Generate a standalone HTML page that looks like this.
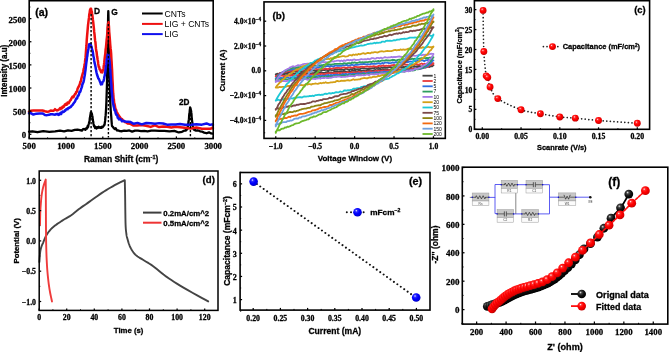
<!DOCTYPE html>
<html><head><meta charset="utf-8"><style>
html,body{margin:0;padding:0;background:#fff;}
svg{display:block;filter:blur(0.3px);}
</style></head><body>
<svg width="669" height="352" viewBox="0 0 669 352">
<rect width="669" height="352" fill="#fff"/>
<defs>
<radialGradient id="gr" cx="0.4" cy="0.36" r="0.62" fx="0.36" fy="0.32"><stop offset="0" stop-color="#fff0f0"/><stop offset="0.22" stop-color="#ff3030"/><stop offset="0.55" stop-color="#ff0000"/><stop offset="0.9" stop-color="#e00000"/><stop offset="1" stop-color="#c00000"/></radialGradient>
<radialGradient id="gb" cx="0.4" cy="0.36" r="0.62" fx="0.36" fy="0.32"><stop offset="0" stop-color="#f0f0ff"/><stop offset="0.22" stop-color="#3030ff"/><stop offset="0.55" stop-color="#0000ff"/><stop offset="0.9" stop-color="#0000e0"/><stop offset="1" stop-color="#0000c0"/></radialGradient>
<radialGradient id="gk" cx="0.4" cy="0.36" r="0.62" fx="0.36" fy="0.32"><stop offset="0" stop-color="#e0e0e0"/><stop offset="0.25" stop-color="#444"/><stop offset="0.6" stop-color="#111"/><stop offset="1" stop-color="#000"/></radialGradient>
</defs>
<path d="M29 131.65L32.5 131.27L37.44 132.23L43.25 131.03L49.33 131.89L55.11 131.45L60 130.72L64.13 131.46L68 130.33L71.56 130.9L74.78 129.94L77.6 129.74L80 130.15L81.85 130.71L83.16 129.07L84.08 129.02L84.76 129.54L85.35 129.83L86 128.65L86.67 127.81L87.22 128.45L87.69 126.01L88.09 126.97L88.45 125.03L88.8 123.79L89.12 122.52L89.39 121.42L89.61 120.84L89.81 117.98L90.01 117.33L90.2 116.28L90.39 114.82L90.56 114.37L90.72 112.74L90.87 112.24L91.2 112.11L91.55 113.48L91.72 113.47L91.91 113.9L92.1 115.24L92.3 115.91L92.51 116.78L92.71 119.23L92.92 120.65L93.16 121.35L93.41 123.47L93.7 124.55L94.01 126.15L94.34 126.59L94.69 126.29L95.07 128.14L95.51 126.77L96 127.64L96.57 128.45L97.23 127.22L97.92 127.76L98.64 126.67L99.34 127.72L100 127.73L100.63 127.26L101.26 127.85L101.88 126.69L102.47 127.32L103.02 126.79L103.5 126.16L103.92 125.2L104.27 125.26L104.58 124.56L104.86 122.35L105.13 120.9L105.4 117.12L105.67 115.15L105.92 111.26L106.16 107.61L106.38 102.35L106.6 95.74L106.8 89.77L107 83.02L107.18 73.2L107.36 64.93L107.52 55.2L107.67 46.55L107.8 39.12L107.91 33.94L108 26.19L108.08 20.56L108.15 16.07L108.22 13.82L108.3 11.06L108.38 12.98L108.45 16.39L108.52 21.84L108.6 27.57L108.69 34.13L108.8 39.56L108.93 47.15L109.08 55.58L109.24 65.77L109.41 75.07L109.6 81.99L109.8 89.35L110.02 95.62L110.26 101.13L110.51 106.53L110.77 111.07L111.03 114.21L111.3 117.01L111.51 120.5L111.66 122.36L111.81 124.18L112.03 126.03L112.41 126.43L113 127.03L113.77 128.14L114.64 128.95L115.67 128.25L116.88 130.37L118.31 130.5L120 131.05L121.98 131.23L124.22 130.68L126.69 130.9L129.33 130.47L132.12 131.66L135 130.62L137.96 130.72L141.04 131.04L144.25 130.95L147.63 131.29L151.2 130.71L155 130.6L159.36 130.93L164.31 130.89L169.47 131.46L174.41 130.81L178.72 132.47L182 131.83L184.08 130.71L185.27 130.69L185.83 130.59L186.17 129.8L186.5 128.75L186.96 129.54L187.32 129.11L187.61 127.24L187.84 126.33L188.07 124.45L188.3 123.2L188.54 122.11L188.76 120.07L188.96 119.16L189.14 115.79L189.32 113.63L189.5 113.9L189.67 111.68L189.82 109.61L189.97 109.25L190.11 107.29L190.25 107.68L190.69 109.19L190.83 109.89L190.98 110.71L191.13 111.15L191.3 112.73L191.48 113.92L191.66 117.01L191.84 118.57L192.04 121.1L192.26 122.08L192.5 123.45L192.72 125.9L192.91 127.33L193.12 128L193.39 128.72L193.77 129.47L194.3 129.98L194.95 129.54L195.66 130.59L196.48 130.65L197.45 130.32L198.61 130.6L200 131.36L201.83 131.55L204.13 132.59L206.61 133.26L209.01 132.34L211.06 133.4L212.5 133.58" fill="none" stroke="#000" stroke-width="2.3" stroke-linejoin="round" stroke-linecap="round" />
<path d="M29 111.91L30.81 110.74L33.37 110.48L36.38 110.52L39.52 110.47L42.5 110.47L45 111.25L47.07 111.69L48.96 111.43L50.69 110.53L52.26 110.69L53.69 110.79L55 109.17L56.15 110.14L57.11 110.47L57.94 110.04L58.67 109.78L59.34 109.02L60 108.16L60.61 109.07L61.13 107.82L61.59 108.39L62.04 108.34L62.49 106.79L63 106.4L63.55 107.09L64.13 106.23L64.72 104.7L65.31 104.17L65.91 103.77L66.5 104.81L67.07 104.17L67.61 102.44L68.16 103.37L68.72 103.19L69.33 101.96L70 100.6L70.77 100.05L71.63 98.1L72.53 96.63L73.43 97.29L74.27 95.42L75 94.05L75.62 93.86L76.17 91.91L76.67 91.87L77.13 90.88L77.56 88.75L78 87.9L78.41 87.13L78.78 86.28L79.12 86.23L79.48 84.72L79.86 83.95L80.3 81.96L80.82 81.67L81.41 78.33L82.03 76.1L82.64 73.83L83.21 72.03L83.7 68.84L84.09 68.02L84.41 65.69L84.69 64.33L84.95 62.72L85.21 59.71L85.5 57.88L85.81 53.8L86.13 49.12L86.44 45.97L86.76 39.9L87.08 35.93L87.4 32.45L87.72 28.64L88.05 24.93L88.38 22.32L88.7 19.67L89.01 17.69L89.3 14.21L89.57 13.28L89.83 11.07L90.08 9.84L90.31 9.86L90.55 8.72L91.05 8.84L91.29 9.87L91.53 11.17L91.77 11.53L92.03 13.44L92.3 15.01L92.59 17.13L92.91 19.98L93.23 22.25L93.56 25.31L93.88 28.12L94.2 31.88L94.51 34.23L94.81 37.53L95.12 40.63L95.42 42.19L95.71 45.56L96 48.89L96.27 51.01L96.54 51.77L96.79 53.77L97.05 56.33L97.32 57.41L97.6 59.48L97.89 60.83L98.19 63.63L98.49 65.37L98.81 66.99L99.15 66.75L99.5 68.93L99.89 69.73L100.33 69.47L100.78 71.57L101.22 72.2L101.63 70.97L102.31 72.39L102.81 70.54L103.04 70.04L103.26 70.14L103.5 68.66L103.75 65.88L103.99 64.71L104.23 62.93L104.47 60.43L104.73 57.84L105 55.64L105.3 53.77L105.62 49.4L105.96 47.35L106.29 43.94L106.61 39.98L106.9 37.66L107.16 35.12L107.4 31.42L107.63 27.12L107.85 26.01L108.07 23.56L108.3 23.14L108.53 22.17L108.76 24.5L108.98 26.94L109.21 31.81L109.45 34.3L109.7 37.26L109.97 40.89L110.26 45.03L110.56 48.13L110.86 50.4L111.14 53.69L111.4 58.84L111.63 62L111.84 66.4L112.04 69.43L112.23 73.56L112.42 78.79L112.6 81.85L112.77 84.34L112.91 89.01L113.06 91.11L113.21 93.97L113.38 94.91L113.6 98.71L113.86 99.25L114.14 102.78L114.46 103.75L114.79 105.18L115.14 107.15L115.5 109.35L115.86 109.37L116.23 110.3L116.62 112.18L117.03 112.61L117.49 113.3L118 114.32L118.53 114.96L119.07 116.03L119.66 116.96L120.31 117.64L121.08 119.26L122 119.08L122.91 120.36L123.74 120.64L124.69 121.93L125.93 122.17L127.64 123.45L130 123.63L133.18 125.54L137.07 125.52L141.44 125.04L146.04 125.79L150.64 126.88L155 125.41L159.11 127.04L163.15 126.43L167.19 126.72L171.3 127.54L175.54 126.81L180 127.21L185.03 127.78L190.65 128.59L196.41 127.54L201.85 128.74L206.53 128.67L210 128.67L212.04 128.29L212.96 128.21L212.5 127.61" fill="none" stroke="#ee1010" stroke-width="2.5" stroke-linejoin="round" stroke-linecap="round" />
<path d="M29 113.26L30.81 113.17L33.37 114.55L36.38 113.63L39.52 113.5L42.5 113.4L45 114.98L47.07 115.13L48.96 114.86L50.69 114.21L52.26 114.24L53.69 114.4L55 114.72L56.15 114L57.11 114.39L57.94 113.78L58.67 114.92L59.34 114.68L60 113.59L60.61 112.8L61.13 114.06L61.59 112.58L62.04 112.49L62.49 111.56L63 112.06L63.55 111.93L64.13 111.62L64.72 110.62L65.31 110.82L65.91 109.41L66.5 109.53L67.07 108.85L67.61 109.2L68.16 108.21L68.72 107.84L69.33 107.95L70 107.17L70.76 107L71.59 105.83L72.47 105.09L73.35 103.66L74.21 102.52L75 101.66L75.74 99.55L76.44 98.3L77.12 98.49L77.78 95.68L78.4 95.66L79 94.29L79.57 91.81L80.11 92.05L80.62 90.79L81.11 88.89L81.57 87.76L82 86.62L82.39 84.15L82.73 83.94L83.04 82.95L83.35 82.56L83.66 81.23L84 79.65L84.38 77.1L84.77 75.27L85.18 72.18L85.58 69.46L85.96 65.88L86.3 63.06L86.59 61.05L86.84 59.37L87.06 56.8L87.29 56.3L87.52 53.88L87.8 52.26L88.12 50.47L88.46 48.75L88.81 46.63L89.18 44.17L89.54 44.66L89.9 44L90.6 44.1L90.94 45.1L91.29 46.56L91.64 46.74L92 49.47L92.35 49.98L92.7 51.3L93.06 53.5L93.42 56.37L93.8 57.34L94.2 60.48L94.62 63.16L95.05 64.58L95.49 66.83L95.96 69.48L96.46 72.24L97 74.53L97.61 76.26L98.29 78.33L98.99 79.1L99.69 80.92L100.34 82.49L100.9 84.39L101.36 83.95L102.07 84.2L102.37 82.55L102.68 81.93L103 81.54L103.34 81.41L103.69 80.32L104.04 78.98L104.37 76.77L104.7 75.67L105 73.93L105.28 72.11L105.54 69.37L105.78 68.76L106.02 65.21L106.26 64.74L106.5 62.87L106.75 59.35L107 58.53L107.24 57.67L107.49 56.66L107.74 54.73L108.26 54.3L108.53 54.92L108.81 57.55L109.08 57.59L109.34 60.13L109.6 61.28L109.85 64.44L110.09 68.13L110.32 69.61L110.55 74.25L110.77 76.9L111 80.77L111.22 83.5L111.43 85.76L111.63 90.3L111.84 92.56L112.06 94.51L112.3 97.01L112.54 100.12L112.76 101.86L112.99 103.17L113.26 104.32L113.59 106.17L114 107.63L114.51 110.3L115.1 110.29L115.74 113.42L116.43 115.14L117.12 115.08L117.8 117.85L118.43 118.31L119.01 119.35L119.6 118.63L120.26 119.21L121.04 119.64L122 121.3L123 120.97L123.96 121.01L125.04 121.61L126.4 121.74L128.2 121.68L130.6 122.1L133.75 123.81L137.54 122.9L141.77 124.33L146.24 123.05L150.72 123.16L155 123.72L159.07 123.13L163.1 123.51L167.15 124.67L171.27 124.52L175.54 124.39L180 124.06L185.03 124.7L190.65 124.86L196.41 124.2L201.85 124.66L206.53 123.42L210 124.86L212.04 124.35L212.96 124.98L212.5 124.79" fill="none" stroke="#1010ee" stroke-width="2.5" stroke-linejoin="round" stroke-linecap="round" />
<line x1="91.1" y1="14" x2="91.1" y2="137.5" stroke="#000" stroke-width="1.4" stroke-dasharray="2.2 1.8"/>
<line x1="108.4" y1="24" x2="108.4" y2="137.5" stroke="#000" stroke-width="1.4" stroke-dasharray="2.2 1.8"/>
<line x1="190.4" y1="110" x2="190.4" y2="137.5" stroke="#000" stroke-width="1.4" stroke-dasharray="2.2 1.8"/>
<rect x="29.2" y="0.7" width="184" height="137.9" fill="none" stroke="#000" stroke-width="1.6"/>
<line x1="29.2" y1="138.6" x2="29.2" y2="136.4" stroke="#000" stroke-width="1.25" />
<line x1="66" y1="138.6" x2="66" y2="136.4" stroke="#000" stroke-width="1.25" />
<line x1="102.8" y1="138.6" x2="102.8" y2="136.4" stroke="#000" stroke-width="1.25" />
<line x1="139.6" y1="138.6" x2="139.6" y2="136.4" stroke="#000" stroke-width="1.25" />
<line x1="176.4" y1="138.6" x2="176.4" y2="136.4" stroke="#000" stroke-width="1.25" />
<line x1="213.2" y1="138.6" x2="213.2" y2="136.4" stroke="#000" stroke-width="1.25" />
<line x1="47.6" y1="138.6" x2="47.6" y2="137.4" stroke="#000" stroke-width="1.0" />
<line x1="84.4" y1="138.6" x2="84.4" y2="137.4" stroke="#000" stroke-width="1.0" />
<line x1="121.2" y1="138.6" x2="121.2" y2="137.4" stroke="#000" stroke-width="1.0" />
<line x1="158" y1="138.6" x2="158" y2="137.4" stroke="#000" stroke-width="1.0" />
<line x1="194.8" y1="138.6" x2="194.8" y2="137.4" stroke="#000" stroke-width="1.0" />
<line x1="29.2" y1="134.3" x2="31.4" y2="134.3" stroke="#000" stroke-width="1.25" />
<line x1="29.2" y1="111.16" x2="31.4" y2="111.16" stroke="#000" stroke-width="1.25" />
<line x1="29.2" y1="88.02" x2="31.4" y2="88.02" stroke="#000" stroke-width="1.25" />
<line x1="29.2" y1="64.88" x2="31.4" y2="64.88" stroke="#000" stroke-width="1.25" />
<line x1="29.2" y1="41.74" x2="31.4" y2="41.74" stroke="#000" stroke-width="1.25" />
<line x1="29.2" y1="18.6" x2="31.4" y2="18.6" stroke="#000" stroke-width="1.25" />
<line x1="29.2" y1="122.73" x2="30.4" y2="122.73" stroke="#000" stroke-width="1.0" />
<line x1="29.2" y1="99.59" x2="30.4" y2="99.59" stroke="#000" stroke-width="1.0" />
<line x1="29.2" y1="76.45" x2="30.4" y2="76.45" stroke="#000" stroke-width="1.0" />
<line x1="29.2" y1="53.31" x2="30.4" y2="53.31" stroke="#000" stroke-width="1.0" />
<line x1="29.2" y1="30.17" x2="30.4" y2="30.17" stroke="#000" stroke-width="1.0" />
<line x1="29.2" y1="7.03" x2="30.4" y2="7.03" stroke="#000" stroke-width="1.0" />
<text x="26.2" y="138.3" font-family='"Liberation Serif", serif' font-size="8.8" font-weight="bold" text-anchor="end" fill="#000" stroke="#000" stroke-width="0.28" >0</text>
<text x="26.2" y="115.16" font-family='"Liberation Serif", serif' font-size="8.8" font-weight="bold" text-anchor="end" fill="#000" stroke="#000" stroke-width="0.28" >500</text>
<text x="26.2" y="92.02" font-family='"Liberation Serif", serif' font-size="8.8" font-weight="bold" text-anchor="end" fill="#000" stroke="#000" stroke-width="0.28" >1000</text>
<text x="26.2" y="68.88" font-family='"Liberation Serif", serif' font-size="8.8" font-weight="bold" text-anchor="end" fill="#000" stroke="#000" stroke-width="0.28" >1500</text>
<text x="26.2" y="45.74" font-family='"Liberation Serif", serif' font-size="8.8" font-weight="bold" text-anchor="end" fill="#000" stroke="#000" stroke-width="0.28" >2000</text>
<text x="26.2" y="22.6" font-family='"Liberation Serif", serif' font-size="8.8" font-weight="bold" text-anchor="end" fill="#000" stroke="#000" stroke-width="0.28" >2500</text>
<text x="29.2" y="148.8" font-family='"Liberation Serif", serif' font-size="8.8" font-weight="bold" text-anchor="middle" fill="#000" stroke="#000" stroke-width="0.28" >500</text>
<text x="66" y="148.8" font-family='"Liberation Serif", serif' font-size="8.8" font-weight="bold" text-anchor="middle" fill="#000" stroke="#000" stroke-width="0.28" >1000</text>
<text x="102.8" y="148.8" font-family='"Liberation Serif", serif' font-size="8.8" font-weight="bold" text-anchor="middle" fill="#000" stroke="#000" stroke-width="0.28" >1500</text>
<text x="139.6" y="148.8" font-family='"Liberation Serif", serif' font-size="8.8" font-weight="bold" text-anchor="middle" fill="#000" stroke="#000" stroke-width="0.28" >2000</text>
<text x="176.4" y="148.8" font-family='"Liberation Serif", serif' font-size="8.8" font-weight="bold" text-anchor="middle" fill="#000" stroke="#000" stroke-width="0.28" >2500</text>
<text x="213.2" y="148.8" font-family='"Liberation Serif", serif' font-size="8.8" font-weight="bold" text-anchor="middle" fill="#000" stroke="#000" stroke-width="0.28" >3000</text>
<text x="83.9" y="161.9" font-family='"Liberation Sans", sans-serif' font-size="8.5" font-weight="bold" text-anchor="start" fill="#000" stroke="#000" stroke-width="0.28" textLength="74.4" lengthAdjust="spacingAndGlyphs" >Raman Shift (cm<tspan font-size="5.5" dy="-3">-1</tspan><tspan dy="3">)</tspan></text>
<text x="6.9" y="70.8" font-family='"Liberation Sans", sans-serif' font-size="8.3" font-weight="bold" text-anchor="middle" fill="#000" stroke="#000" stroke-width="0.28" textLength="52" lengthAdjust="spacingAndGlyphs" transform="rotate(-90 6.9 70.8)" >Intensity (a.u)</text>
<text x="35.2" y="15.9" font-family='"Liberation Sans", sans-serif' font-size="10.5" font-weight="bold" text-anchor="start" fill="#000" stroke="#000" stroke-width="0.28" >(a)</text>
<text x="94" y="14" font-family='"Liberation Sans", sans-serif' font-size="8.4" font-weight="bold" text-anchor="start" fill="#000" stroke="#000" stroke-width="0.28" >D</text>
<text x="111.3" y="15" font-family='"Liberation Sans", sans-serif' font-size="8.4" font-weight="bold" text-anchor="start" fill="#000" stroke="#000" stroke-width="0.28" >G</text>
<text x="179" y="105" font-family='"Liberation Sans", sans-serif' font-size="8.2" font-weight="bold" text-anchor="start" fill="#000" stroke="#000" stroke-width="0.28" >2D</text>
<line x1="142" y1="13.5" x2="162.7" y2="13.5" stroke="#000" stroke-width="2" />
<text x="164.5" y="16.8" font-family='"Liberation Sans", sans-serif' font-size="8.6" font-weight="normal" text-anchor="start" fill="#000" >CNTs</text>
<line x1="142" y1="23.9" x2="162.7" y2="23.9" stroke="#ee1010" stroke-width="2" />
<text x="164.5" y="27.2" font-family='"Liberation Sans", sans-serif' font-size="8.6" font-weight="normal" text-anchor="start" fill="#000" >LIG + CNTs</text>
<line x1="142" y1="34.1" x2="162.7" y2="34.1" stroke="#1010ee" stroke-width="2" />
<text x="164.5" y="37.4" font-family='"Liberation Sans", sans-serif' font-size="8.6" font-weight="normal" text-anchor="start" fill="#000" >LIG</text>
<path d="M275.75 74.43L277.06 73.72L278.38 74.19L279.69 73.06L281.01 73.12L282.32 72.75L283.63 72.5L284.95 72.77L286.26 72.85L287.58 71.99L288.89 72.27L290.21 71.8L291.52 71.96L292.83 71.7L294.15 71.39L295.46 71.3L296.78 71.27L298.09 71.9L299.41 71.42L300.72 71.08L302.03 71.7L303.35 71.72L304.66 71.11L305.98 70.74L307.29 70.73L308.6 70.57L309.92 70.76L311.23 70.45L312.55 70.54L313.86 70.5L315.18 70.75L316.49 71.01L317.8 70.81L319.12 70.42L320.43 70.36L321.75 70.41L323.06 70.21L324.37 70.11L325.69 69.78L327 69.93L328.32 70.57L329.63 69.67L330.95 69.99L332.26 70.05L333.57 70.23L334.89 69.52L336.2 69.52L337.52 69.44L338.83 69.53L340.14 69.52L341.46 69.97L342.77 69.81L344.09 69.78L345.4 68.87L346.72 68.82L348.03 69.44L349.34 69.57L350.66 69.09L351.97 69.14L353.29 68.5L354.6 68.83L355.91 69.31L357.23 69.15L358.54 69.12L359.86 69.18L361.17 68.4L362.49 68.2L363.8 68.19L365.11 68.5L366.43 68.6L367.74 68.8L369.06 68.53L370.37 68.39L371.68 68.45L373 68.09L374.31 68.12L375.63 67.55L376.94 68.24L378.25 67.63L379.57 68.26L380.88 67.93L382.2 67.53L383.51 67.29L384.83 67.36L386.14 67.69L387.45 67.69L388.77 67.05L390.08 66.95L391.4 67.34L392.71 67.34L394.03 67.09L395.34 66.87L396.65 67.19L397.97 66.54L399.28 66.77L400.6 66.88L401.91 67.32L403.22 66.94L404.54 67.12L405.85 66.66L407.17 66.36L408.48 66.31L409.8 66.97L411.11 66.66L412.42 66.2L413.74 65.86L415.05 66.28L416.37 66.39L417.68 66.08L418.99 65.86L420.31 66.21L421.62 66.41L422.94 65.66L424.25 65.41L425.56 65.65L426.88 65.68L428.19 65.88L429.51 65.34L430.82 65.88L432.14 65.76L433.45 65.47L433.45 65.17L432.14 66.42L430.82 66.16L429.51 67L428.19 66.69L426.88 66.92L425.57 67.67L424.25 67.38L422.94 68.19L421.62 67.87L420.31 67.69L418.99 67.83L417.68 68.13L416.37 68.47L415.05 68.84L413.74 68.12L412.42 68.44L411.11 68.33L409.8 69.16L408.48 68.4L407.17 68.37L405.85 68.45L404.54 68.84L403.22 69.41L401.91 69.46L400.6 69.37L399.28 69.69L397.97 69.69L396.65 69.14L395.34 69.06L394.03 69.87L392.71 69.74L391.4 69.08L390.08 69.77L388.77 69.54L387.45 69.6L386.14 69.61L384.83 69.51L383.51 69.4L382.2 69.74L380.88 69.87L379.57 70.53L378.25 69.75L376.94 70.65L375.63 69.95L374.31 70.16L373 70.68L371.68 70.74L370.37 70.41L369.06 70.08L367.74 70.57L366.43 70.52L365.11 71.13L363.8 70.46L362.49 70.69L361.17 71.28L359.86 70.47L358.54 70.91L357.23 71.37L355.91 71.38L354.6 70.71L353.29 70.76L351.97 70.85L350.66 71.77L349.34 71.16L348.03 71.71L346.72 71.92L345.4 71.42L344.09 71.41L342.77 72.15L341.46 71.87L340.14 71.57L338.83 72.08L337.52 71.74L336.2 71.76L334.89 71.54L333.57 72.35L332.26 72.57L330.95 72.35L329.63 72.71L328.32 71.85L327 72.12L325.69 72.42L324.37 72.96L323.06 73.01L321.75 72.51L320.43 72.43L319.12 72.66L317.8 72.79L316.49 73.28L315.18 72.59L313.86 73.27L312.55 73.26L311.23 73.4L309.92 73.41L308.6 73.3L307.29 73.08L305.98 73.13L304.66 73.23L303.35 73.71L302.03 73.07L300.72 73.24L299.41 73.86L298.09 73.41L296.78 73.28L295.46 73.31L294.15 73.89L292.83 73.72L291.52 74.43L290.21 74.39L288.89 74.55L287.58 73.89L286.26 73.77L284.95 73.84L283.64 74.3L282.32 74.56L281.01 74.36L279.69 74.2L278.38 74.45L277.06 74.71L275.75 74.82L275.75 74.43" fill="none" stroke="#444444" stroke-width="1.8" stroke-linejoin="round" stroke-linecap="round" />
<path d="M275.75 76.5L277.06 75.6L278.38 74.6L279.69 73.37L281.01 73.53L282.32 72.51L283.63 72.39L284.95 71.86L286.26 71.94L287.58 71.16L288.89 71L290.21 70.82L291.52 70.56L292.83 71.15L294.15 70.72L295.46 70.35L296.78 70.31L298.09 70.81L299.41 70.23L300.72 69.87L302.03 70.36L303.35 70.12L304.66 70.38L305.98 69.42L307.29 69.72L308.6 69.99L309.92 69.94L311.23 69.94L312.55 69L313.86 69.18L315.18 68.94L316.49 68.94L317.8 69.66L319.12 69.2L320.43 69.48L321.75 68.86L323.06 69.28L324.37 68.8L325.69 68.54L327 69L328.32 69.1L329.63 68.19L330.95 68.62L332.26 68.57L333.57 68.1L334.89 68.19L336.2 67.9L337.52 67.89L338.83 67.88L340.14 68.16L341.46 68.14L342.77 67.63L344.09 67.37L345.4 67.62L346.72 67.9L348.03 67.34L349.34 67.4L350.66 67.23L351.97 67.76L353.29 67.44L354.6 66.89L355.91 66.86L357.23 67.09L358.54 67.18L359.86 67.2L361.17 66.59L362.49 66.59L363.8 67.06L365.11 66.71L366.43 66.52L367.74 66.47L369.06 67.05L370.37 66.35L371.68 66.53L373 66.26L374.31 66.25L375.63 66.63L376.94 66.7L378.25 66L379.57 65.77L380.88 66.23L382.2 65.64L383.51 65.38L384.83 66.21L386.14 65.66L387.45 66L388.77 65.51L390.08 65.93L391.4 65.44L392.71 65.07L394.03 64.86L395.34 65.33L396.65 65.35L397.97 65.56L399.28 64.67L400.6 65.14L401.91 64.82L403.22 64.89L404.54 64.46L405.85 64.53L407.17 64.7L408.48 65.04L409.8 64.16L411.11 64.47L412.42 64.72L413.74 64.82L415.05 63.98L416.37 63.85L417.68 64.6L418.99 64.56L420.31 64L421.62 63.51L422.94 64.32L424.25 63.71L425.56 64.16L426.88 63.81L428.19 63.95L429.51 63.22L430.82 63.78L432.14 63.15L433.45 63.26L433.45 63.71L432.14 64.69L430.82 64.87L429.51 65.58L428.19 66.33L426.88 66.92L425.57 67.18L424.25 67.25L422.94 67.66L421.62 68.38L420.31 68.76L418.99 68.09L417.68 68.77L416.37 69.11L415.05 68.52L413.74 69.43L412.42 68.82L411.11 69.4L409.8 69.44L408.48 69.61L407.17 69.37L405.85 69.57L404.54 69.81L403.22 69.73L401.91 70.03L400.6 69.89L399.28 69.96L397.97 69.61L396.65 70.28L395.34 70.22L394.03 70.03L392.71 70.63L391.4 70.71L390.08 70.46L388.77 70.24L387.45 70.6L386.14 70.31L384.83 70.39L383.51 70.76L382.2 70.49L380.88 70.91L379.57 71.04L378.25 70.64L376.94 71.3L375.63 70.81L374.31 71.53L373 71.64L371.68 71.44L370.37 71.05L369.06 71.56L367.74 71.5L366.43 72.14L365.11 71.4L363.8 72.18L362.49 72.39L361.17 72.19L359.86 72.34L358.54 71.78L357.23 72.64L355.91 72.21L354.6 72.74L353.29 72.77L351.97 72.09L350.66 72.77L349.34 72.98L348.03 72.18L346.72 72.54L345.4 73.01L344.09 72.48L342.77 73.28L341.46 72.72L340.14 73.33L338.83 72.73L337.52 73.15L336.2 73.63L334.89 72.99L333.57 73.11L332.26 73.42L330.95 73.3L329.63 73.08L328.32 73.29L327 73.34L325.69 74.18L324.37 73.99L323.06 74.27L321.75 73.61L320.43 74.29L319.12 73.69L317.8 74.17L316.49 74.34L315.18 74.13L313.86 74.71L312.55 74.46L311.23 74.55L309.92 74.92L308.6 74.21L307.29 75.16L305.98 74.86L304.66 74.7L303.35 75.16L302.03 74.7L300.72 75.49L299.41 75.14L298.09 74.99L296.78 75.46L295.46 75.21L294.15 75.01L292.83 75.64L291.52 75.01L290.21 75.85L288.89 75.35L287.58 75.8L286.26 76.21L284.95 75.88L283.64 76.02L282.32 75.74L281.01 75.49L279.69 75.59L278.38 75.77L277.06 76.31L275.75 76.19L275.75 76.5" fill="none" stroke="#e8383a" stroke-width="1.8" stroke-linejoin="round" stroke-linecap="round" />
<path d="M275.75 78.5L277.06 77.3L278.38 75.2L279.69 74.17L281.01 73.66L282.32 72.23L283.63 71.53L284.95 71.31L286.26 70.57L287.58 70.4L288.89 69.9L290.21 69.94L291.52 69.67L292.83 69.05L294.15 69.25L295.46 68.91L296.78 68.4L298.09 69.04L299.41 68.21L300.72 67.98L302.03 67.81L303.35 68.23L304.66 68.36L305.98 68.16L307.29 67.68L308.6 67.45L309.92 67.1L311.23 67.64L312.55 67.47L313.86 67.17L315.18 67.38L316.49 67.1L317.8 67.51L319.12 67.22L320.43 66.65L321.75 67.23L323.06 66.29L324.37 66.7L325.69 66.49L327 66.24L328.32 65.98L329.63 66.62L330.95 65.78L332.26 66.24L333.57 66.55L334.89 65.67L336.2 65.65L337.52 65.98L338.83 65.8L340.14 65.85L341.46 65.95L342.77 65.23L344.09 65.29L345.4 65.2L346.72 64.87L348.03 65.63L349.34 65.45L350.66 65.3L351.97 64.51L353.29 65.27L354.6 65.09L355.91 64.73L357.23 64.93L358.54 64.56L359.86 64.26L361.17 64.06L362.49 64.11L363.8 63.84L365.11 64.06L366.43 64.39L367.74 64.26L369.06 64.33L370.37 64.12L371.68 63.59L373 63.8L374.31 63.61L375.63 63.88L376.94 63.54L378.25 63.2L379.57 63.5L380.88 63.74L382.2 62.92L383.51 63.5L384.83 62.56L386.14 62.72L387.45 62.62L388.77 63.05L390.08 63.17L391.4 62.9L392.71 62.4L394.03 62.87L395.34 62.24L396.65 62.07L397.97 62.66L399.28 62.31L400.6 62.29L401.91 62.19L403.22 62.42L404.54 61.83L405.85 62.12L407.17 61.9L408.48 61.99L409.8 61.49L411.11 61.7L412.42 61.46L413.74 61.12L415.05 60.95L416.37 61.28L417.68 60.66L418.99 61.41L420.31 60.57L421.62 60.37L422.94 60.37L424.25 61.11L425.56 60.45L426.88 60.17L428.19 59.98L429.51 59.91L430.82 60.49L432.14 60.35L433.45 60.33L433.45 60.37L432.14 61.29L430.82 63.15L429.51 64.04L428.19 65.44L426.88 66.24L425.57 66.99L424.25 66.74L422.94 68.03L421.62 68.5L420.31 68.89L418.99 68.37L417.68 68.74L416.37 68.89L415.05 69.03L413.74 70.03L412.42 70.17L411.11 70.15L409.8 70.48L408.48 70.42L407.17 70.2L405.85 70.13L404.54 70.24L403.22 71L401.91 70.55L400.6 70.76L399.28 70.96L397.97 70.65L396.65 70.97L395.34 71.08L394.03 71.6L392.71 71.34L391.4 71.37L390.08 72.1L388.77 71.72L387.45 72.15L386.14 72L384.83 71.49L383.51 71.95L382.2 72.06L380.88 72.47L379.57 72.13L378.25 72.56L376.94 72.48L375.63 72.23L374.31 72.96L373 72.27L371.68 73.07L370.37 72.5L369.06 72.41L367.74 72.69L366.43 73.33L365.11 73.63L363.8 72.73L362.49 73.3L361.17 73.37L359.86 73.76L358.54 73.22L357.23 73.61L355.91 73.54L354.6 74.11L353.29 73.61L351.97 74.38L350.66 73.8L349.34 73.8L348.03 74.37L346.72 74.25L345.4 73.94L344.09 74.54L342.77 74.06L341.46 74.85L340.14 74.84L338.83 75.01L337.52 74.92L336.2 74.73L334.89 74.86L333.57 74.93L332.26 75.5L330.95 74.78L329.63 75.66L328.32 74.87L327 75.13L325.69 75.27L324.37 75.98L323.06 75.66L321.75 75.62L320.43 76.2L319.12 75.63L317.8 75.94L316.49 76.09L315.18 76.39L313.86 76.46L312.55 76.44L311.23 76.22L309.92 76.27L308.6 76.18L307.29 76.95L305.98 76.84L304.66 77L303.35 76.51L302.03 76.86L300.72 77.27L299.41 77.15L298.09 76.78L296.78 77.19L295.46 77.7L294.15 77.13L292.83 77.16L291.52 77.35L290.21 77.83L288.89 78.05L287.58 77.44L286.26 77.52L284.95 77.69L283.64 77.84L282.32 78.12L281.01 77.83L279.69 78.08L278.38 78.02L277.06 78.88L275.75 78.72L275.75 78.5" fill="none" stroke="#2f6fe0" stroke-width="1.8" stroke-linejoin="round" stroke-linecap="round" />
<path d="M275.75 79.7L277.06 78.61L278.38 76.08L279.69 74.94L281.01 74.32L282.32 73.09L283.63 72.13L284.95 71.06L286.26 70.15L287.58 70.02L288.89 68.98L290.21 68.64L291.52 68.44L292.83 67.75L294.15 67.81L295.46 67.93L296.78 67.6L298.09 67.19L299.41 67.12L300.72 66.77L302.03 66.29L303.35 66.6L304.66 66.25L305.98 66.46L307.29 66.5L308.6 65.9L309.92 65.92L311.23 65.99L312.55 65.55L313.86 65.26L315.18 65.65L316.49 65.71L317.8 65.5L319.12 65.33L320.43 65.39L321.75 65.13L323.06 64.99L324.37 64.72L325.69 64.48L327 64.71L328.32 64.09L329.63 64.32L330.95 64.6L332.26 64.44L333.57 64.27L334.89 63.8L336.2 63.88L337.52 63.83L338.83 63.91L340.14 63.61L341.46 63.79L342.77 63.95L344.09 63.12L345.4 63.5L346.72 63.54L348.03 63.06L349.34 63.08L350.66 63.48L351.97 62.45L353.29 62.87L354.6 62.4L355.91 62.94L357.23 63.01L358.54 62.5L359.86 61.99L361.17 62.38L362.49 62.26L363.8 62.35L365.11 62.06L366.43 62.1L367.74 62.2L369.06 61.81L370.37 61.61L371.68 62.06L373 61.23L374.31 61.62L375.63 61.24L376.94 61.53L378.25 60.8L379.57 61.58L380.88 60.86L382.2 60.47L383.51 60.6L384.83 60.64L386.14 60.17L387.45 60.49L388.77 60.4L390.08 60.59L391.4 60.16L392.71 59.99L394.03 59.86L395.34 60.29L396.65 60.4L397.97 59.9L399.28 59.51L400.6 60L401.91 59.51L403.22 59.24L404.54 59.07L405.85 59.63L407.17 59.58L408.48 59.32L409.8 59.06L411.11 59.07L412.42 58.65L413.74 59.3L415.05 58.6L416.37 58.8L417.68 58.89L418.99 58.8L420.31 58.37L421.62 58.11L422.94 58.27L424.25 57.76L425.56 58.39L426.88 57.82L428.19 58.23L429.51 57.56L430.82 57.58L432.14 57.37L433.45 57.46L433.45 57.22L432.14 58.99L430.82 61.37L429.51 62.36L428.19 63.54L426.88 64.64L425.57 65.71L424.25 66.44L422.94 67.31L421.62 67.91L420.31 68.12L418.99 69.12L417.68 69.44L416.37 68.98L415.05 70.05L413.74 70.39L412.42 70.51L411.11 70.09L409.8 70.97L408.48 70.95L407.17 70.5L405.85 70.65L404.54 71.73L403.22 71.57L401.91 71.29L400.6 71.27L399.28 71.42L397.97 71.63L396.65 72.28L395.34 71.95L394.03 71.86L392.71 72.71L391.4 72.69L390.08 72.17L388.77 72.98L387.45 72.79L386.14 73.06L384.83 73.04L383.51 73.35L382.2 73.34L380.88 73.48L379.57 72.93L378.25 73.51L376.94 73.44L375.63 73.74L374.31 73.52L373 74.05L371.68 73.81L370.37 73.61L369.06 73.67L367.74 73.66L366.43 74.1L365.11 73.75L363.8 74.25L362.49 74.01L361.17 74.45L359.86 74.54L358.54 74.67L357.23 75.08L355.91 74.31L354.6 75.23L353.29 74.95L351.97 75.13L350.66 75.32L349.34 75.58L348.03 75.2L346.72 75.33L345.4 75.96L344.09 75.16L342.77 75.81L341.46 75.9L340.14 75.38L338.83 76.04L337.52 76.2L336.2 76.54L334.89 76.02L333.57 76.76L332.26 76.38L330.95 76.44L329.63 76.94L328.32 76.16L327 76.93L325.69 76.93L324.37 76.73L323.06 77.34L321.75 76.93L320.43 77.12L319.12 77.26L317.8 77.59L316.49 77.12L315.18 77.43L313.86 77.51L312.55 77.72L311.23 78.08L309.92 77.64L308.6 78.26L307.29 77.92L305.98 78.11L304.66 77.96L303.35 78.28L302.03 78.84L300.72 78.61L299.41 78.83L298.09 78.46L296.78 78.53L295.46 78.6L294.15 78.97L292.83 79.11L291.52 79.34L290.21 78.69L288.89 79.45L287.58 79.7L286.26 79.45L284.95 79.04L283.64 79.38L282.32 79.17L281.01 79.44L279.69 80.26L278.38 80.04L277.06 80.17L275.75 80.39L275.75 79.7" fill="none" stroke="#2e9e5e" stroke-width="1.8" stroke-linejoin="round" stroke-linecap="round" />
<path d="M275.75 82L277.06 79.37L278.38 77.36L279.69 75.63L281.01 74.18L282.32 72.77L283.63 71.71L284.95 70.24L286.26 69.83L287.58 68.86L288.89 68.5L290.21 67.25L291.52 66.81L292.83 66.2L294.15 66.53L295.46 66.31L296.78 65.72L298.09 65.14L299.41 65.33L300.72 65.05L302.03 64.6L303.35 64.09L304.66 63.95L305.98 63.89L307.29 63.62L308.6 63.58L309.92 63.64L311.23 63.79L312.55 62.78L313.86 63.16L315.18 62.51L316.49 62.47L317.8 63.04L319.12 62.69L320.43 62.92L321.75 62.34L323.06 61.8L324.37 62.07L325.69 62.17L327 62.41L328.32 62.35L329.63 61.74L330.95 61.58L332.26 61.16L333.57 61.61L334.89 61.07L336.2 60.91L337.52 60.68L338.83 60.57L340.14 61.15L341.46 60.49L342.77 61.24L344.09 60.26L345.4 60.94L346.72 60.1L348.03 59.9L349.34 60.5L350.66 59.92L351.97 60.32L353.29 59.67L354.6 59.44L355.91 60.07L357.23 59.91L358.54 59.95L359.86 59.73L361.17 58.99L362.49 59.43L363.8 59.42L365.11 59.07L366.43 59.45L367.74 58.67L369.06 59.28L370.37 58.94L371.68 58.14L373 58.04L374.31 58.58L375.63 58.65L376.94 57.82L378.25 57.95L379.57 58.27L380.88 57.61L382.2 58.21L383.51 57.74L384.83 57.21L386.14 57.42L387.45 57.53L388.77 57.3L390.08 57.44L391.4 56.81L392.71 57.37L394.03 56.84L395.34 57.02L396.65 56.91L397.97 56.6L399.28 56.47L400.6 56.77L401.91 56.84L403.22 56.58L404.54 56.26L405.85 55.89L407.17 55.56L408.48 56.38L409.8 56.01L411.11 56.04L412.42 55.45L413.74 55.62L415.05 55.9L416.37 55.65L417.68 55.33L418.99 54.94L420.31 54.96L421.62 55.32L422.94 54.71L424.25 54.92L425.56 54.74L426.88 54.94L428.19 54.76L429.51 54.13L430.82 53.76L432.14 53.92L433.45 53.98L433.45 54.15L432.14 56.7L430.82 58.79L429.51 59.69L428.19 62L426.88 63.29L425.57 64.49L424.25 65.19L422.94 65.76L421.62 67.1L420.31 67.72L418.99 68.19L417.68 68.93L416.37 68.83L415.05 68.97L413.74 69.81L412.42 70.38L411.11 70.08L409.8 70.89L408.48 71.32L407.17 70.84L405.85 71.42L404.54 71.68L403.22 71.64L401.91 71.55L400.6 71.76L399.28 72.4L397.97 72.58L396.65 72.38L395.34 72.14L394.03 72.98L392.71 73.07L391.4 72.65L390.08 73.11L388.77 73.54L387.45 73.64L386.14 73.38L384.83 73.44L383.51 73.66L382.2 73.37L380.88 73.47L379.57 73.56L378.25 74.19L376.94 73.95L375.63 74.25L374.31 74.19L373 74.4L371.68 74.13L370.37 74.13L369.06 75.18L367.74 74.65L366.43 74.48L365.11 75.11L363.8 75.36L362.49 74.83L361.17 75.37L359.86 75.21L358.54 75.49L357.23 75.08L355.91 75.19L354.6 76.25L353.29 76.22L351.97 75.94L350.66 76.12L349.34 75.91L348.03 76.52L346.72 76.27L345.4 76.89L344.09 76.8L342.77 76.95L341.46 77.19L340.14 76.58L338.83 76.46L337.52 76.72L336.2 76.8L334.89 76.8L333.57 76.86L332.26 77.47L330.95 77.88L329.63 77.56L328.32 78.15L327 78.21L325.69 77.46L324.37 78.09L323.06 77.99L321.75 77.81L320.43 78.74L319.12 78.14L317.8 78.54L316.49 78.72L315.18 79.13L313.86 78.94L312.55 78.76L311.23 78.91L309.92 78.72L308.6 79.63L307.29 79.75L305.98 79.08L304.66 78.99L303.35 79.3L302.03 79.5L300.72 80.15L299.41 80.24L298.09 80.27L296.78 79.58L295.46 80.42L294.15 80.44L292.83 80.47L291.52 80.91L290.21 80.08L288.89 80.26L287.58 80.97L286.26 81.25L284.95 81.08L283.64 80.8L282.32 81.19L281.01 81.46L279.69 80.9L278.38 81.22L277.06 81.25L275.75 81.21L275.75 82" fill="none" stroke="#a57ae6" stroke-width="1.8" stroke-linejoin="round" stroke-linecap="round" />
<path d="M275.75 87.52L277.06 85.58L278.38 84.11L279.69 82.55L281.01 81.7L282.32 79.73L283.63 79.19L284.95 77.49L286.26 76.22L287.58 76.05L288.89 74.34L290.21 74.1L291.52 73.13L292.83 72.29L294.15 70.72L295.46 70.25L296.78 69.16L298.09 69.29L299.41 68.53L300.72 67.68L302.03 66.89L303.35 66.2L304.66 66.12L305.98 65.25L307.29 64.89L308.6 63.92L309.92 63.54L311.23 62.93L312.55 63.16L313.86 62.59L315.18 61.79L316.49 62.14L317.8 61.17L319.12 60.97L320.43 60.38L321.75 60.17L323.06 60.43L324.37 59.62L325.69 59.17L327 59.21L328.32 58.77L329.63 59.09L330.95 58.04L332.26 58.66L333.57 57.5L334.89 58.1L336.2 57.65L337.52 56.97L338.83 57.02L340.14 56.62L341.46 56.39L342.77 56.13L344.09 56.09L345.4 56.53L346.72 56.35L348.03 56.09L349.34 55.08L350.66 55.1L351.97 55.53L353.29 54.52L354.6 55.02L355.91 54.42L357.23 54.94L358.54 53.82L359.86 54.45L361.17 53.82L362.49 53.47L363.8 53.18L365.11 53.86L366.43 53.4L367.74 52.91L369.06 53.01L370.37 53.34L371.68 52.5L373 52.71L374.31 52.14L375.63 52.04L376.94 52.49L378.25 52.29L379.57 51.64L380.88 51.38L382.2 51.25L383.51 51.64L384.83 51.39L386.14 51.03L387.45 50.83L388.77 51.1L390.08 51.07L391.4 51.04L392.71 50.68L394.03 50.17L395.34 49.9L396.65 50.43L397.97 49.98L399.28 50.16L400.6 49.37L401.91 49.99L403.22 49.39L404.54 49.77L405.85 49.66L407.17 49.16L408.48 48.56L409.8 49.32L411.11 48.76L412.42 49.03L413.74 48.3L415.05 48.09L416.37 48.61L417.68 48.02L418.99 47.69L420.31 47.77L421.62 47.87L422.94 47.15L424.25 47.54L425.56 47.34L426.88 47.28L428.19 46.76L429.51 47.23L430.82 47.21L432.14 47.13L433.45 46.46L433.45 46.83L432.14 48.24L430.82 50.25L429.51 51.11L428.19 53.38L426.88 54.83L425.57 55.67L424.25 56.92L422.94 58.09L421.62 59.19L420.31 59.7L418.99 61.63L417.68 61.81L416.37 62.64L415.05 63.38L413.74 64.32L412.42 65.62L411.11 65.54L409.8 66.27L408.48 67.51L407.17 67.61L405.85 68.01L404.54 69.13L403.22 69.63L401.91 70.07L400.6 70.72L399.28 70.57L397.97 71.76L396.65 72.02L395.34 71.74L394.03 72.2L392.71 72.93L391.4 73.28L390.08 73.39L388.77 73.55L387.45 74.14L386.14 74.17L384.83 74.91L383.51 75.45L382.2 75.01L380.88 75.69L379.57 76.11L378.25 75.77L376.94 76.66L375.63 77L374.31 76.67L373 76.92L371.68 77.55L370.37 77.44L369.06 77.51L367.74 78.25L366.43 78.27L365.11 78.02L363.8 78.1L362.49 78.37L361.17 78.65L359.86 79.37L358.54 79.36L357.23 79.63L355.91 79.7L354.6 79.89L353.29 79.26L351.97 79.88L350.66 80.47L349.34 80.6L348.03 80.07L346.72 80.39L345.4 80.75L344.09 80.62L342.77 80.93L341.46 80.62L340.14 81.12L338.83 81.34L337.52 80.99L336.2 81.25L334.89 82.22L333.57 82.16L332.26 82.46L330.95 82.29L329.63 82.6L328.32 82.81L327 82.94L325.69 82.23L324.37 82.97L323.06 82.72L321.75 83.27L320.43 82.99L319.12 83.39L317.8 83.9L316.49 83.73L315.18 83.49L313.86 83.89L312.55 83.93L311.23 84.58L309.92 84.04L308.6 84.19L307.29 84.66L305.98 84.26L304.66 84.86L303.35 85.35L302.03 85.03L300.72 84.91L299.41 85.24L298.09 85.43L296.78 85.17L295.46 85.27L294.15 85.41L292.83 85.69L291.52 85.93L290.21 85.94L288.89 86.02L287.58 85.99L286.26 86.57L284.95 86.99L283.64 86.89L282.32 86.97L281.01 87.18L279.69 86.85L278.38 87.49L277.06 87.36L275.75 87.58L275.75 87.52" fill="none" stroke="#d4a017" stroke-width="1.8" stroke-linejoin="round" stroke-linecap="round" />
<path d="M275.75 100.67L277.06 98.31L278.38 96.02L279.69 93.91L281.01 91.92L282.32 90.33L283.63 88.39L284.95 86.85L286.26 84.6L287.58 83.34L288.89 82.3L290.21 80.2L291.52 79.09L292.83 77.65L294.15 76.13L295.46 75.57L296.78 73.65L298.09 72.96L299.41 71.21L300.72 70.04L302.03 69.79L303.35 68.35L304.66 67.01L305.98 66.4L307.29 65.55L308.6 64.97L309.92 63.51L311.23 62.82L312.55 62.77L313.86 61.8L315.18 60.49L316.49 59.97L317.8 59.31L319.12 58.98L320.43 58.28L321.75 57.91L323.06 57.28L324.37 56.41L325.69 56.08L327 55.54L328.32 55.04L329.63 54.25L330.95 54.07L332.26 53.52L333.57 53.27L334.89 52.04L336.2 52.35L337.52 51.06L338.83 51.41L340.14 50.84L341.46 50.36L342.77 50.45L344.09 49.69L345.4 49.18L346.72 49.2L348.03 48.95L349.34 48.35L350.66 47.8L351.97 47.56L353.29 47.26L354.6 47.22L355.91 46.5L357.23 46.31L358.54 46.19L359.86 45.75L361.17 45.41L362.49 45.61L363.8 45.42L365.11 44.81L366.43 44.51L367.74 44L369.06 43.88L370.37 43.49L371.68 43.68L373 43.46L374.31 42.74L375.63 43.35L376.94 42.54L378.25 42.84L379.57 42.62L380.88 42.53L382.2 41.57L383.51 41.59L384.83 41.87L386.14 40.77L387.45 40.61L388.77 40.94L390.08 40.68L391.4 40.91L392.71 40.57L394.03 40.15L395.34 40.43L396.65 39.76L397.97 39.58L399.28 39.57L400.6 39.1L401.91 38.89L403.22 38.95L404.54 38.53L405.85 38.96L407.17 38.51L408.48 38.19L409.8 37.59L411.11 37.7L412.42 37.56L413.74 37.55L415.05 37.4L416.37 37.54L417.68 37.46L418.99 36.82L420.31 36.62L421.62 36.64L422.94 36.85L424.25 36.04L425.56 36.06L426.88 36.19L428.19 35.39L429.51 35.38L430.82 35.88L432.14 35.57L433.45 35.1L433.45 34.45L432.14 37.57L430.82 39.6L429.51 41.87L428.19 44.08L426.88 45.94L425.57 47.36L424.25 48.9L422.94 50.76L421.62 52.63L420.31 54.21L418.99 55.42L417.68 56.87L416.37 58.72L415.05 60.04L413.74 61.07L412.42 62.95L411.11 63.78L409.8 64.33L408.48 65.79L407.17 67.22L405.85 67.75L404.54 69.11L403.22 69.36L401.91 70.56L400.6 71.96L399.28 72.54L397.97 73.42L396.65 73.72L395.34 74.76L394.03 75.53L392.71 75.94L391.4 76.98L390.08 77.51L388.77 78.6L387.45 78.77L386.14 79.19L384.83 79.45L383.51 80.03L382.2 81.15L380.88 81L379.57 81.48L378.25 82.03L376.94 82.84L375.63 83.58L374.31 83.8L373 84.41L371.68 84.07L370.37 84.42L369.06 85.56L367.74 85.48L366.43 86.23L365.11 86.22L363.8 86.38L362.49 86.81L361.17 86.97L359.86 88.09L358.54 88.07L357.23 88.14L355.91 88.54L354.6 88.76L353.29 88.71L351.97 89.82L350.66 89.78L349.34 90.42L348.03 90.16L346.72 90.59L345.4 90.47L344.09 90.51L342.77 91.63L341.46 91.79L340.14 91.48L338.83 92.29L337.52 92.43L336.2 92.14L334.89 92.65L333.57 93.22L332.26 92.97L330.95 93.63L329.63 93.12L328.32 93.47L327 94L325.69 93.7L324.37 93.98L323.06 94.74L321.75 94.54L320.43 95.03L319.12 94.67L317.8 94.78L316.49 95.15L315.18 95.16L313.86 96.12L312.55 95.62L311.23 96.06L309.92 95.79L308.6 96.38L307.29 96.41L305.98 96.59L304.66 96.43L303.35 96.65L302.03 97.52L300.72 97.21L299.41 97.27L298.09 97.38L296.78 97.64L295.46 97.75L294.15 97.71L292.83 98.5L291.52 98.34L290.21 98.31L288.89 99.02L287.58 98.57L286.26 98.9L284.95 99.62L283.64 99.07L282.32 99.54L281.01 100.09L279.69 100.22L278.38 99.72L277.06 100.07L275.75 100.6L275.75 100.67" fill="none" stroke="#1ec8d6" stroke-width="1.8" stroke-linejoin="round" stroke-linecap="round" />
<path d="M275.75 109.74L277.06 107.81L278.38 104.63L279.69 103.04L281.01 100.34L282.32 97.89L283.63 96.02L284.95 93.68L286.26 92.31L287.58 89.98L288.89 88.8L290.21 86.74L291.52 84.82L292.83 83.07L294.15 81.85L295.46 79.93L296.78 79.12L298.09 76.94L299.41 75.96L300.72 74.66L302.03 73.1L303.35 72.36L304.66 70.77L305.98 69.88L307.29 68.66L308.6 67.31L309.92 66.34L311.23 65.01L312.55 64.11L313.86 63.83L315.18 62.37L316.49 61.81L317.8 60.38L319.12 59.99L320.43 58.97L321.75 58.31L323.06 57.33L324.37 56.35L325.69 55.87L327 55.07L328.32 54.28L329.63 54.2L330.95 53.12L332.26 52.61L333.57 52.49L334.89 51.76L336.2 51.28L337.52 50.69L338.83 49.41L340.14 49.01L341.46 48.24L342.77 48.37L344.09 47.85L345.4 47.05L346.72 46.63L348.03 46.41L349.34 45.99L350.66 45.1L351.97 45.26L353.29 44.33L354.6 44.19L355.91 43.33L357.23 42.87L358.54 43.27L359.86 42.7L361.17 42.3L362.49 41.26L363.8 40.89L365.11 40.66L366.43 40.34L367.74 40.1L369.06 39.84L370.37 39.16L371.68 39.1L373 39.11L374.31 38.33L375.63 38.67L376.94 38.1L378.25 37.94L379.57 37.17L380.88 37.06L382.2 37.01L383.51 36.39L384.83 35.75L386.14 36.31L387.45 35.97L388.77 35.2L390.08 34.69L391.4 35.23L392.71 34.71L394.03 33.89L395.34 33.83L396.65 33.43L397.97 33.86L399.28 33.02L400.6 33.48L401.91 33.06L403.22 32.15L404.54 32.51L405.85 31.97L407.17 32.08L408.48 31.92L409.8 31.13L411.11 30.71L412.42 31.33L413.74 30.57L415.05 30.85L416.37 30.38L417.68 30.19L418.99 30.06L420.31 29.63L421.62 29.23L422.94 28.6L424.25 29.02L425.56 28.53L426.88 28.39L428.19 28.59L429.51 27.57L430.82 27.99L432.14 27.05L433.45 27.49L433.45 27.09L432.14 28.77L430.82 31.21L429.51 33.73L428.19 35.42L426.88 37.29L425.57 38.9L424.25 40.56L422.94 42.64L421.62 44.43L420.31 45.91L418.99 47.65L417.68 49.05L416.37 51.16L415.05 52.61L413.74 53.63L412.42 55.03L411.11 56.67L409.8 57.92L408.48 59.69L407.17 60.36L405.85 61.52L404.54 63.28L403.22 63.68L401.91 65.21L400.6 66.06L399.28 67.59L397.97 68.34L396.65 69.54L395.34 69.92L394.03 71.35L392.71 72.2L391.4 72.95L390.08 74.12L388.77 75.03L387.45 75.13L386.14 76.1L384.83 76.95L383.51 77.56L382.2 78.15L380.88 79.09L379.57 79.71L378.25 80.9L376.94 81.32L375.63 81.63L374.31 82.48L373 83.25L371.68 83.75L370.37 84.15L369.06 84.63L367.74 85.14L366.43 86.68L365.11 86.98L363.8 86.84L362.49 87.99L361.17 88.76L359.86 88.84L358.54 88.88L357.23 89.73L355.91 90.14L354.6 90.36L353.29 91.16L351.97 91.07L350.66 92.41L349.34 92.56L348.03 92.96L346.72 93.68L345.4 93.79L344.09 93.79L342.77 94.17L341.46 94.44L340.14 94.71L338.83 95.82L337.52 96.25L336.2 96.07L334.89 96.31L333.57 97.11L332.26 97.66L330.95 98.07L329.63 97.65L328.32 98.59L327 98.96L325.69 99.19L324.37 99.09L323.06 99.26L321.75 100.2L320.43 100L319.12 100.35L317.8 100.83L316.49 100.94L315.18 101.69L313.86 101.38L312.55 101.46L311.23 102.27L309.92 102.61L308.6 103.07L307.29 103.23L305.98 103.7L304.66 104L303.35 103.82L302.03 104.08L300.72 104L299.41 104.4L298.09 104.94L296.78 104.69L295.46 105.55L294.15 105.27L292.83 105.8L291.52 106.57L290.21 105.94L288.89 106.13L287.58 106.77L286.26 106.76L284.95 107.53L283.64 107.05L282.32 108.12L281.01 108.37L279.69 108.53L278.38 108.4L277.06 108.49L275.75 109.1L275.75 109.74" fill="none" stroke="#7a4848" stroke-width="1.8" stroke-linejoin="round" stroke-linecap="round" />
<path d="M275.75 116.69L277.06 113.76L278.38 110.93L279.69 108.39L281.01 106.07L282.32 103.77L283.63 101.47L284.95 98.44L286.26 96.36L287.58 94.37L288.89 92.43L290.21 90.23L291.52 88.16L292.83 86.19L294.15 84.63L295.46 83.04L296.78 81.88L298.09 80.2L299.41 78.59L300.72 77.18L302.03 75.71L303.35 73.95L304.66 72.77L305.98 70.69L307.29 70.03L308.6 68.72L309.92 67.2L311.23 66.31L312.55 65.56L313.86 63.99L315.18 63.1L316.49 61.72L317.8 60.77L319.12 60.34L320.43 58.54L321.75 57.79L323.06 57.39L324.37 56.3L325.69 55.1L327 54.86L328.32 53.78L329.63 53.22L330.95 52.3L332.26 51.69L333.57 51.01L334.89 50.15L336.2 49.19L337.52 48.6L338.83 48.67L340.14 47.7L341.46 46.66L342.77 46.81L344.09 45.62L345.4 44.89L346.72 44.77L348.03 43.95L349.34 43.66L350.66 43.2L351.97 42.36L353.29 42.21L354.6 41.26L355.91 41.19L357.23 40.79L358.54 39.82L359.86 39.7L361.17 38.92L362.49 38.85L363.8 38.85L365.11 38.12L366.43 37.87L367.74 37.5L369.06 36.46L370.37 36.94L371.68 36.29L373 35.29L374.31 35.64L375.63 34.83L376.94 34.24L378.25 34.67L379.57 33.92L380.88 33.78L382.2 32.8L383.51 33.09L384.83 32.04L386.14 31.88L387.45 31.69L388.77 31L390.08 31.26L391.4 30.56L392.71 30.33L394.03 30.42L395.34 29.83L396.65 29.98L397.97 29.41L399.28 29.36L400.6 28.75L401.91 28.81L403.22 28.46L404.54 27.47L405.85 27.75L407.17 27.06L408.48 27.2L409.8 26.83L411.11 26.69L412.42 25.71L413.74 25.68L415.05 25.76L416.37 25.7L417.68 25.2L418.99 24.24L420.31 24.53L421.62 23.76L422.94 23.94L424.25 23.92L425.56 22.97L426.88 23.51L428.19 23L429.51 22.31L430.82 21.99L432.14 21.98L433.45 22.11L433.45 21.28L432.14 23.25L430.82 25.51L429.51 27.9L428.19 30.81L426.88 32.35L425.57 34.82L424.25 36.59L422.94 38.96L421.62 40.57L420.31 42.2L418.99 44.74L417.68 46.17L416.37 48.03L415.05 49.81L413.74 51.56L412.42 52.19L411.11 54.05L409.8 55.34L408.48 57.13L407.17 58.91L405.85 60.2L404.54 60.76L403.22 62.2L401.91 64.1L400.6 65.18L399.28 66.09L397.97 67.33L396.65 68.14L395.34 69.93L394.03 70.55L392.71 72.08L391.4 72.83L390.08 73.29L388.77 74.51L387.45 75.34L386.14 76.94L384.83 77.54L383.51 77.87L382.2 78.85L380.88 79.88L379.57 80.8L378.25 81.71L376.94 82.3L375.63 83.02L374.31 83.42L373 84.72L371.68 85.19L370.37 85.57L369.06 86.69L367.74 87.88L366.43 87.59L365.11 88.33L363.8 89.48L362.49 89.7L361.17 90.3L359.86 91.11L358.54 91.45L357.23 92.33L355.91 92.84L354.6 93.81L353.29 94.38L351.97 93.95L350.66 94.99L349.34 95.71L348.03 96.31L346.72 96.7L345.4 97.04L344.09 97.52L342.77 97.71L341.46 98.09L340.14 99.05L338.83 99.57L337.52 100.07L336.2 100.25L334.89 100.29L333.57 101.17L332.26 101.56L330.95 101.73L329.63 102.26L328.32 102.37L327 102.96L325.69 103.2L324.37 103.24L323.06 103.89L321.75 104.25L320.43 105.28L319.12 105.13L317.8 105.38L316.49 105.61L315.18 105.95L313.86 106.41L312.55 106.54L311.23 106.75L309.92 107.95L308.6 107.87L307.29 108.19L305.98 108.64L304.66 108.7L303.35 108.89L302.03 109.1L300.72 109.66L299.41 109.98L298.09 110.7L296.78 110.84L295.46 111.53L294.15 111.24L292.83 112.12L291.52 112.08L290.21 111.88L288.89 112.27L287.58 112.97L286.26 113.66L284.95 113.32L283.64 114.03L282.32 113.97L281.01 114.7L279.69 114.18L278.38 114.88L277.06 115.57L275.75 115.23L275.75 116.69" fill="none" stroke="#8c8412" stroke-width="1.8" stroke-linejoin="round" stroke-linecap="round" />
<path d="M275.75 121.4L277.06 118.1L278.38 115.28L279.69 112.53L281.01 110.21L282.32 107.07L283.63 104.69L284.95 102.02L286.26 100.03L287.58 97.99L288.89 95.54L290.21 92.94L291.52 91.4L292.83 89.63L294.15 87.32L295.46 84.93L296.78 83.85L298.09 82.16L299.41 79.93L300.72 78.09L302.03 76.56L303.35 75.37L304.66 74.23L305.98 72.55L307.29 71.44L308.6 69.38L309.92 68.19L311.23 67.35L312.55 66.02L313.86 64.59L315.18 63.71L316.49 62.25L317.8 60.88L319.12 60.18L320.43 58.79L321.75 58.38L323.06 57.12L324.37 56.34L325.69 55.53L327 54.3L328.32 53.64L329.63 52.35L330.95 52.45L332.26 51.29L333.57 50.93L334.89 49.25L336.2 49.07L337.52 48.46L338.83 47.36L340.14 46.44L341.46 45.83L342.77 45.16L344.09 45.15L345.4 43.85L346.72 43.96L348.03 42.98L349.34 42.51L350.66 41.99L351.97 41.39L353.29 40.95L354.6 40.35L355.91 39.55L357.23 39.45L358.54 38.46L359.86 38.41L361.17 37.97L362.49 37.5L363.8 36.57L365.11 36.56L366.43 36.31L367.74 35.34L369.06 34.72L370.37 34.53L371.68 34.52L373 33.29L374.31 32.75L375.63 32.8L376.94 32.58L378.25 32.29L379.57 31.49L380.88 31.72L382.2 30.58L383.51 30.72L384.83 29.68L386.14 29.25L387.45 28.98L388.77 28.54L390.08 28.63L391.4 28.32L392.71 27.59L394.03 28L395.34 27.08L396.65 26.52L397.97 26.21L399.28 26.43L400.6 26.28L401.91 25.18L403.22 24.72L404.54 25.14L405.85 24.28L407.17 24.7L408.48 23.89L409.8 23.71L411.11 23.1L412.42 23.24L413.74 22.59L415.05 22.14L416.37 22.41L417.68 21.3L418.99 21.62L420.31 20.65L421.62 20.92L422.94 20.38L424.25 20.54L425.56 19.43L426.88 19.64L428.19 19.19L429.51 19.4L430.82 19.13L432.14 18.52L433.45 17.82L433.45 17.23L432.14 19.87L430.82 22.59L429.51 24.86L428.19 27.24L426.88 30.12L425.57 32.27L424.25 34.13L422.94 36.96L421.62 38.25L420.31 40.62L418.99 42.17L417.68 44.78L416.37 46.63L415.05 47.83L413.74 50.06L412.42 51.83L411.11 52.94L409.8 54.6L408.48 56.31L407.17 58.24L405.85 58.99L404.54 60.95L403.22 62.27L401.91 63.49L400.6 64.94L399.28 66.54L397.97 67.12L396.65 69.02L395.34 69.7L394.03 71.28L392.71 72.5L391.4 72.93L390.08 74.69L388.77 75.87L387.45 76.2L386.14 76.93L384.83 78L383.51 79.82L382.2 79.79L380.88 81.6L379.57 81.73L378.25 83.18L376.94 83.4L375.63 84.3L374.31 85.63L373 85.83L371.68 86.85L370.37 88.19L369.06 88.74L367.74 89.63L366.43 90.44L365.11 90.2L363.8 91.08L362.49 92.31L361.17 92.87L359.86 92.86L358.54 93.96L357.23 94.31L355.91 95.12L354.6 95.39L353.29 95.89L351.97 97.44L350.66 97.34L349.34 98.45L348.03 98.24L346.72 99.15L345.4 99.33L344.09 100.14L342.77 100.41L341.46 101.42L340.14 101.38L338.83 102.46L337.52 102.7L336.2 102.79L334.89 103.5L333.57 104.1L332.26 104.98L330.95 104.86L329.63 105.17L328.32 106.36L327 106.71L325.69 106.99L324.37 106.95L323.06 107.27L321.75 107.77L320.43 107.98L319.12 108.36L317.8 109.22L316.49 109.52L315.18 110.06L313.86 110.25L312.55 110.28L311.23 111.33L309.92 111.67L308.6 111.94L307.29 112.31L305.98 112.82L304.66 113.47L303.35 113.72L302.03 113.92L300.72 113.95L299.41 114.22L298.09 114.67L296.78 115.57L295.46 115.33L294.15 115.66L292.83 116.03L291.52 116.09L290.21 117.28L288.89 116.62L287.58 117.55L286.26 118.2L284.95 117.85L283.64 118.53L282.32 118.62L281.01 118.8L279.69 119.08L278.38 119.31L277.06 120.35L275.75 120.61L275.75 121.4" fill="none" stroke="#f26a10" stroke-width="1.8" stroke-linejoin="round" stroke-linecap="round" />
<path d="M275.75 126.39L277.06 122.55L278.38 120.31L279.69 117.15L281.01 114.77L282.32 112.06L283.63 109.3L284.95 107.5L286.26 104.16L287.58 102.6L288.89 100.49L290.21 97.99L291.52 95.98L292.83 94.35L294.15 91.63L295.46 90.12L296.78 88.39L298.09 86.23L299.41 84.83L300.72 82.82L302.03 81.32L303.35 79.82L304.66 78.34L305.98 76.49L307.29 75.34L308.6 73.84L309.92 72.14L311.23 71.2L312.55 69.55L313.86 68.93L315.18 67.27L316.49 66.32L317.8 64.96L319.12 63.78L320.43 62.42L321.75 61.26L323.06 61L324.37 59.58L325.69 58.58L327 57.61L328.32 56.95L329.63 55.45L330.95 54.48L332.26 54.25L333.57 53.03L334.89 52.36L336.2 51.73L337.52 50.99L338.83 50.18L340.14 48.58L341.46 48.17L342.77 47.88L344.09 47.14L345.4 45.74L346.72 45.08L348.03 44.49L349.34 43.68L350.66 43.28L351.97 43.08L353.29 42.17L354.6 41.48L355.91 40.51L357.23 40.22L358.54 40.23L359.86 39.35L361.17 38.54L362.49 38L363.8 37.77L365.11 37.19L366.43 36.05L367.74 36.05L369.06 35.22L370.37 34.86L371.68 34.07L373 33.71L374.31 33.18L375.63 32.74L376.94 31.9L378.25 31.61L379.57 31.51L380.88 30.53L382.2 30.19L383.51 30.28L384.83 29.39L386.14 29L387.45 28.47L388.77 28.63L390.08 27.46L391.4 27.58L392.71 27.38L394.03 26.3L395.34 26.11L396.65 26.07L397.97 25.48L399.28 24.83L400.6 24.1L401.91 24.1L403.22 23.63L404.54 23.58L405.85 22.77L407.17 22.5L408.48 22.35L409.8 22.13L411.11 21.29L412.42 20.94L413.74 20.76L415.05 20.73L416.37 19.63L417.68 20.04L418.99 19.41L420.31 18.7L421.62 18.63L422.94 17.93L424.25 17.31L425.56 17.63L426.88 16.9L428.19 16.68L429.51 16.3L430.82 16.35L432.14 15.85L433.45 14.76L433.45 14.47L432.14 17.06L430.82 19.7L429.51 22.64L428.19 24.71L426.88 27.19L425.57 29.95L424.25 31.79L422.94 34.06L421.62 36.24L420.31 38.65L418.99 40.53L417.68 42.58L416.37 44.17L415.05 45.69L413.74 48.15L412.42 49.8L411.11 51.74L409.8 53.42L408.48 54.41L407.17 56.11L405.85 57.51L404.54 59.77L403.22 60.52L401.91 61.94L400.6 64.01L399.28 65.18L397.97 66L396.65 67.92L395.34 69.21L394.03 70.22L392.71 70.99L391.4 72.8L390.08 73.68L388.77 74.96L387.45 76.47L386.14 77.35L384.83 78.45L383.51 78.74L382.2 79.93L380.88 81.09L379.57 81.53L378.25 83.44L376.94 83.64L375.63 84.52L374.31 85.44L373 86.24L371.68 87.68L370.37 88.2L369.06 88.96L367.74 89.66L366.43 90.06L365.11 91.07L363.8 92.38L362.49 93.05L361.17 93.82L359.86 93.92L358.54 94.56L357.23 95.09L355.91 96.24L354.6 96.73L353.29 97.47L351.97 98.13L350.66 98.85L349.34 99.24L348.03 100.28L346.72 100.28L345.4 101.58L344.09 101.8L342.77 101.86L341.46 102.68L340.14 103.45L338.83 103.88L337.52 104.57L336.2 104.86L334.89 105.33L333.57 106.37L332.26 106.38L330.95 107.3L329.63 107.89L328.32 108.18L327 108.52L325.69 109.49L324.37 109.47L323.06 110.38L321.75 110.02L320.43 110.86L319.12 111.52L317.8 111.38L316.49 112.65L315.18 112.3L313.86 113.26L312.55 113.28L311.23 114.46L309.92 114.52L308.6 115.19L307.29 115.31L305.98 115.9L304.66 116.32L303.35 116.35L302.03 116.67L300.72 117.71L299.41 117.42L298.09 118.59L296.78 118.28L295.46 118.57L294.15 118.95L292.83 120.03L291.52 120.59L290.21 120.44L288.89 121.07L287.58 121.05L286.26 122.07L284.95 122.23L283.64 122.08L282.32 122.35L281.01 123.36L279.69 123.08L278.38 124.24L277.06 124.07L275.75 124.37L275.75 126.39" fill="none" stroke="#6ea0de" stroke-width="1.8" stroke-linejoin="round" stroke-linecap="round" />
<path d="M275.75 132.88L277.06 129.86L278.38 127.41L279.69 124.39L281.01 122.61L282.32 119.54L283.63 117.65L284.95 114.61L286.26 112.97L287.58 110.92L288.89 108.16L290.21 105.68L291.52 103.96L292.83 102.21L294.15 99.84L295.46 98.25L296.78 95.93L298.09 94.48L299.41 92.97L300.72 90.94L302.03 89.5L303.35 87.29L304.66 86.39L305.98 84.11L307.29 83.38L308.6 81.95L309.92 80.43L311.23 78.58L312.55 76.94L313.86 75.63L315.18 74.69L316.49 73.13L317.8 72.28L319.12 70.19L320.43 69.35L321.75 68.53L323.06 67.09L324.37 65.87L325.69 64.29L327 63.24L328.32 62.28L329.63 61.84L330.95 60.75L332.26 59.1L333.57 58.8L334.89 56.92L336.2 56.52L337.52 55.94L338.83 54.38L340.14 54.06L341.46 52.87L342.77 51.38L344.09 50.79L345.4 50.05L346.72 49.01L348.03 48.67L349.34 47.29L350.66 47.1L351.97 45.82L353.29 44.81L354.6 44.53L355.91 43.31L357.23 43.02L358.54 42.53L359.86 41.61L361.17 40.76L362.49 39.63L363.8 39.41L365.11 38.31L366.43 38.18L367.74 36.99L369.06 36.77L370.37 35.89L371.68 35.27L373 34.92L374.31 33.79L375.63 33.17L376.94 33.32L378.25 32.1L379.57 32L380.88 31.43L382.2 30.45L383.51 29.53L384.83 28.89L386.14 29.1L387.45 27.76L388.77 27.58L390.08 27.05L391.4 26.08L392.71 25.87L394.03 25.02L395.34 24.85L396.65 24.28L397.97 23.6L399.28 22.9L400.6 22.58L401.91 21.85L403.22 21.26L404.54 20.85L405.85 20.97L407.17 20.09L408.48 19.97L409.8 18.58L411.11 19.01L412.42 18.06L413.74 17.86L415.05 17.15L416.37 16.77L417.68 15.82L418.99 15.86L420.31 14.78L421.62 14.4L422.94 13.69L424.25 13.58L425.56 13.22L426.88 12.52L428.19 12.65L429.51 11.37L430.82 11.4L432.14 10.59L433.45 10.48L433.45 9.08L432.14 11.77L430.82 13.81L429.51 16.61L428.19 19.5L426.88 22.37L425.57 23.84L424.25 26.76L422.94 29.13L421.62 31.48L420.31 33.18L418.99 35.76L417.68 37.48L416.37 39.95L415.05 41L413.74 43.84L412.42 45.17L411.11 46.99L409.8 48.44L408.48 50.33L407.17 52.51L405.85 54.1L404.54 55.19L403.22 56.95L401.91 58.29L400.6 59.84L399.28 61.33L397.97 62.88L396.65 64.92L395.34 66.31L394.03 67.45L392.71 68.45L391.4 69.75L390.08 71.28L388.77 72.64L387.45 73.69L386.14 74.75L384.83 75.47L383.51 77.02L382.2 78.35L380.88 79.38L379.57 79.75L378.25 81.42L376.94 82.07L375.63 82.89L374.31 84.68L373 85.35L371.68 86.38L370.37 86.7L369.06 88.31L367.74 89.32L366.43 90.17L365.11 90.89L363.8 91.83L362.49 92.64L361.17 93.26L359.86 93.92L358.54 95.11L357.23 95.86L355.91 96.73L354.6 96.92L353.29 98.34L351.97 98.66L350.66 99.81L349.34 99.7L348.03 101.27L346.72 101.8L345.4 101.96L344.09 103.23L342.77 103.3L341.46 103.94L340.14 104.86L338.83 105.29L337.52 106.2L336.2 107.25L334.89 107.66L333.57 108.31L332.26 108.61L330.95 109.62L329.63 110.23L328.32 110.72L327 111.57L325.69 112.05L324.37 112.21L323.06 112.47L321.75 113.61L320.43 114.36L319.12 114.42L317.8 115.24L316.49 116.03L315.18 116.54L313.86 116.29L312.55 117.32L311.23 117.38L309.92 118.01L308.6 119.24L307.29 119.37L305.98 120.08L304.66 120.45L303.35 120.84L302.03 121.23L300.72 121.88L299.41 122.87L298.09 123.15L296.78 123.32L295.46 123.62L294.15 124.29L292.83 125.22L291.52 125.45L290.21 126.15L288.89 126.78L287.58 126.58L286.26 127.62L284.95 127.46L283.64 128.72L282.32 128.55L281.01 129.11L279.69 130.27L278.38 130.14L277.06 130.47L275.75 131.6L275.75 132.88" fill="none" stroke="#6cb82a" stroke-width="1.8" stroke-linejoin="round" stroke-linecap="round" />
<rect x="264" y="1.9" width="181.3" height="136.5" fill="none" stroke="#000" stroke-width="1.6"/>
<line x1="275.75" y1="138.4" x2="275.75" y2="136.2" stroke="#000" stroke-width="1.25" />
<line x1="315.18" y1="138.4" x2="315.18" y2="136.2" stroke="#000" stroke-width="1.25" />
<line x1="354.6" y1="138.4" x2="354.6" y2="136.2" stroke="#000" stroke-width="1.25" />
<line x1="394.03" y1="138.4" x2="394.03" y2="136.2" stroke="#000" stroke-width="1.25" />
<line x1="433.45" y1="138.4" x2="433.45" y2="136.2" stroke="#000" stroke-width="1.25" />
<line x1="295.46" y1="138.4" x2="295.46" y2="137.2" stroke="#000" stroke-width="1.0" />
<line x1="334.89" y1="138.4" x2="334.89" y2="137.2" stroke="#000" stroke-width="1.0" />
<line x1="374.31" y1="138.4" x2="374.31" y2="137.2" stroke="#000" stroke-width="1.0" />
<line x1="413.74" y1="138.4" x2="413.74" y2="137.2" stroke="#000" stroke-width="1.0" />
<line x1="264" y1="120.4" x2="266.2" y2="120.4" stroke="#000" stroke-width="1.25" />
<line x1="264" y1="95.6" x2="266.2" y2="95.6" stroke="#000" stroke-width="1.25" />
<line x1="264" y1="70.8" x2="266.2" y2="70.8" stroke="#000" stroke-width="1.25" />
<line x1="264" y1="46" x2="266.2" y2="46" stroke="#000" stroke-width="1.25" />
<line x1="264" y1="21.2" x2="266.2" y2="21.2" stroke="#000" stroke-width="1.25" />
<line x1="264" y1="132.8" x2="265.2" y2="132.8" stroke="#000" stroke-width="1.0" />
<line x1="264" y1="108" x2="265.2" y2="108" stroke="#000" stroke-width="1.0" />
<line x1="264" y1="83.2" x2="265.2" y2="83.2" stroke="#000" stroke-width="1.0" />
<line x1="264" y1="58.4" x2="265.2" y2="58.4" stroke="#000" stroke-width="1.0" />
<line x1="264" y1="33.6" x2="265.2" y2="33.6" stroke="#000" stroke-width="1.0" />
<text x="261" y="23.7" font-family='"Liberation Serif", serif' font-size="7.6" font-weight="bold" text-anchor="end" fill="#000" stroke="#000" stroke-width="0.28" >4.0×10<tspan font-size="5.2" dy="-3">−4</tspan></text>
<text x="261" y="48.5" font-family='"Liberation Serif", serif' font-size="7.6" font-weight="bold" text-anchor="end" fill="#000" stroke="#000" stroke-width="0.28" >2.0×10<tspan font-size="5.2" dy="-3">−4</tspan></text>
<text x="261" y="73.3" font-family='"Liberation Serif", serif' font-size="7.6" font-weight="bold" text-anchor="end" fill="#000" stroke="#000" stroke-width="0.28" >0.0</text>
<text x="261" y="98.1" font-family='"Liberation Serif", serif' font-size="7.6" font-weight="bold" text-anchor="end" fill="#000" stroke="#000" stroke-width="0.28" >−2.0×10<tspan font-size="5.2" dy="-3">−4</tspan></text>
<text x="261" y="122.9" font-family='"Liberation Serif", serif' font-size="7.6" font-weight="bold" text-anchor="end" fill="#000" stroke="#000" stroke-width="0.28" >−4.0×10<tspan font-size="5.2" dy="-3">−4</tspan></text>
<text x="275.75" y="149.3" font-family='"Liberation Serif", serif' font-size="7.6" font-weight="bold" text-anchor="middle" fill="#000" stroke="#000" stroke-width="0.28" >−1.0</text>
<text x="315.18" y="149.3" font-family='"Liberation Serif", serif' font-size="7.6" font-weight="bold" text-anchor="middle" fill="#000" stroke="#000" stroke-width="0.28" >−0.5</text>
<text x="354.6" y="149.3" font-family='"Liberation Serif", serif' font-size="7.6" font-weight="bold" text-anchor="middle" fill="#000" stroke="#000" stroke-width="0.28" >0.0</text>
<text x="394.03" y="149.3" font-family='"Liberation Serif", serif' font-size="7.6" font-weight="bold" text-anchor="middle" fill="#000" stroke="#000" stroke-width="0.28" >0.5</text>
<text x="433.45" y="149.3" font-family='"Liberation Serif", serif' font-size="7.6" font-weight="bold" text-anchor="middle" fill="#000" stroke="#000" stroke-width="0.28" >1.0</text>
<text x="317.7" y="161.2" font-family='"Liberation Sans", sans-serif' font-size="8.0" font-weight="bold" text-anchor="start" fill="#000" stroke="#000" stroke-width="0.28" textLength="74.4" lengthAdjust="spacingAndGlyphs" >Voltage Window (V)</text>
<text x="225.2" y="70.5" font-family='"Liberation Sans", sans-serif' font-size="7.9" font-weight="bold" text-anchor="middle" fill="#000" stroke="#000" stroke-width="0.28" textLength="41.8" lengthAdjust="spacingAndGlyphs" transform="rotate(-90 225.2 70.5)" >Current (A)</text>
<text x="272.6" y="18.6" font-family='"Liberation Sans", sans-serif' font-size="9.8" font-weight="bold" text-anchor="start" fill="#000" stroke="#000" stroke-width="0.28" >(b)</text>
<line x1="422.5" y1="75.7" x2="432.7" y2="75.7" stroke="#444444" stroke-width="1.8" />
<text x="433.4" y="77.5" font-family='"Liberation Sans", sans-serif' font-size="5" font-weight="normal" text-anchor="start" fill="#000" >1</text>
<line x1="422.5" y1="81" x2="432.7" y2="81" stroke="#e8383a" stroke-width="1.8" />
<text x="433.4" y="82.8" font-family='"Liberation Sans", sans-serif' font-size="5" font-weight="normal" text-anchor="start" fill="#000" >2</text>
<line x1="422.5" y1="86.3" x2="432.7" y2="86.3" stroke="#2f6fe0" stroke-width="1.8" />
<text x="433.4" y="88.1" font-family='"Liberation Sans", sans-serif' font-size="5" font-weight="normal" text-anchor="start" fill="#000" >5</text>
<line x1="422.5" y1="91.6" x2="432.7" y2="91.6" stroke="#2e9e5e" stroke-width="1.8" />
<text x="433.4" y="93.4" font-family='"Liberation Sans", sans-serif' font-size="5" font-weight="normal" text-anchor="start" fill="#000" >7</text>
<line x1="422.5" y1="96.9" x2="432.7" y2="96.9" stroke="#a57ae6" stroke-width="1.8" />
<text x="433.4" y="98.7" font-family='"Liberation Sans", sans-serif' font-size="5" font-weight="normal" text-anchor="start" fill="#000" >10</text>
<line x1="422.5" y1="102.2" x2="432.7" y2="102.2" stroke="#d4a017" stroke-width="1.8" />
<text x="433.4" y="104" font-family='"Liberation Sans", sans-serif' font-size="5" font-weight="normal" text-anchor="start" fill="#000" >20</text>
<line x1="422.5" y1="107.5" x2="432.7" y2="107.5" stroke="#1ec8d6" stroke-width="1.8" />
<text x="433.4" y="109.3" font-family='"Liberation Sans", sans-serif' font-size="5" font-weight="normal" text-anchor="start" fill="#000" >50</text>
<line x1="422.5" y1="112.8" x2="432.7" y2="112.8" stroke="#7a4848" stroke-width="1.8" />
<text x="433.4" y="114.6" font-family='"Liberation Sans", sans-serif' font-size="5" font-weight="normal" text-anchor="start" fill="#000" >75</text>
<line x1="422.5" y1="118.1" x2="432.7" y2="118.1" stroke="#8c8412" stroke-width="1.8" />
<text x="433.4" y="119.9" font-family='"Liberation Sans", sans-serif' font-size="5" font-weight="normal" text-anchor="start" fill="#000" >100</text>
<line x1="422.5" y1="123.4" x2="432.7" y2="123.4" stroke="#f26a10" stroke-width="1.8" />
<text x="433.4" y="125.2" font-family='"Liberation Sans", sans-serif' font-size="5" font-weight="normal" text-anchor="start" fill="#000" >120</text>
<line x1="422.5" y1="128.7" x2="432.7" y2="128.7" stroke="#6ea0de" stroke-width="1.8" />
<text x="433.4" y="130.5" font-family='"Liberation Sans", sans-serif' font-size="5" font-weight="normal" text-anchor="start" fill="#000" >150</text>
<line x1="422.5" y1="134" x2="432.7" y2="134" stroke="#6cb82a" stroke-width="1.8" />
<text x="433.4" y="135.8" font-family='"Liberation Sans", sans-serif' font-size="5" font-weight="normal" text-anchor="start" fill="#000" >200</text>
<path d="M483.07 10.4L483.11 12.92L483.16 16.26L483.2 20.23L483.25 24.68L483.32 29.43L483.39 34.29L483.48 39.1L483.58 43.69L483.71 47.88L483.85 51.5L484.02 54.71L484.23 57.8L484.46 60.74L484.71 63.53L484.96 66.13L485.23 68.54L485.49 70.73L485.73 72.69L485.97 74.4L486.18 75.83L486.36 76.88L486.52 77.48L486.67 77.73L486.81 77.73L486.95 77.55L487.09 77.31L487.23 77.08L487.38 76.96L487.54 77.05L487.73 77.43L487.9 78.06L488.05 78.8L488.19 79.65L488.34 80.59L488.5 81.59L488.69 82.65L488.93 83.74L489.23 84.84L489.59 85.93L490.05 87.01L490.54 88.08L491 89.2L491.49 90.34L492.02 91.51L492.62 92.69L493.32 93.88L494.16 95.07L495.17 96.26L496.37 97.43L497.8 98.58L499.51 99.74L501.52 100.95L503.76 102.18L506.17 103.42L508.7 104.64L511.28 105.82L513.87 106.94L516.4 107.98L518.81 108.92L521.05 109.75L523.14 110.44L525.17 111.02L527.15 111.5L529.08 111.9L530.98 112.24L532.86 112.55L534.73 112.83L536.61 113.11L538.5 113.4L540.42 113.74L542.38 114.1L544.36 114.46L546.36 114.82L548.36 115.17L550.35 115.51L552.33 115.84L554.27 116.15L556.17 116.43L558.02 116.7L559.8 116.93L561.47 117.13L563.02 117.28L564.49 117.4L565.91 117.5L567.31 117.58L568.73 117.66L570.2 117.74L571.77 117.84L573.45 117.97L575.3 118.13L577.24 118.32L579.21 118.52L581.22 118.75L583.3 118.98L585.47 119.23L587.76 119.48L590.19 119.74L592.78 120L595.56 120.26L598.55 120.52L601.97 120.8L605.93 121.1L610.26 121.42L614.79 121.74L619.38 122.07L623.85 122.38L628.03 122.67L631.78 122.93L634.92 123.15L637.3 123.32" fill="none" stroke="#222" stroke-width="1.7" stroke-linejoin="round" stroke-linecap="round" stroke-dasharray="0.01 3.6"/>
<rect x="474.4" y="0.7" width="175.2" height="128.6" fill="none" stroke="#000" stroke-width="1.6"/>
<line x1="482.3" y1="129.3" x2="482.3" y2="127.3" stroke="#000" stroke-width="1.25" />
<line x1="521.05" y1="129.3" x2="521.05" y2="127.3" stroke="#000" stroke-width="1.25" />
<line x1="559.8" y1="129.3" x2="559.8" y2="127.3" stroke="#000" stroke-width="1.25" />
<line x1="598.55" y1="129.3" x2="598.55" y2="127.3" stroke="#000" stroke-width="1.25" />
<line x1="637.3" y1="129.3" x2="637.3" y2="127.3" stroke="#000" stroke-width="1.25" />
<line x1="501.68" y1="129.3" x2="501.68" y2="128.2" stroke="#000" stroke-width="1.0" />
<line x1="540.42" y1="129.3" x2="540.42" y2="128.2" stroke="#000" stroke-width="1.0" />
<line x1="579.17" y1="129.3" x2="579.17" y2="128.2" stroke="#000" stroke-width="1.0" />
<line x1="617.92" y1="129.3" x2="617.92" y2="128.2" stroke="#000" stroke-width="1.0" />
<line x1="474.4" y1="129.3" x2="476.4" y2="129.3" stroke="#000" stroke-width="1.25" />
<line x1="474.4" y1="109.35" x2="476.4" y2="109.35" stroke="#000" stroke-width="1.25" />
<line x1="474.4" y1="89.4" x2="476.4" y2="89.4" stroke="#000" stroke-width="1.25" />
<line x1="474.4" y1="69.45" x2="476.4" y2="69.45" stroke="#000" stroke-width="1.25" />
<line x1="474.4" y1="49.5" x2="476.4" y2="49.5" stroke="#000" stroke-width="1.25" />
<line x1="474.4" y1="29.55" x2="476.4" y2="29.55" stroke="#000" stroke-width="1.25" />
<line x1="474.4" y1="9.6" x2="476.4" y2="9.6" stroke="#000" stroke-width="1.25" />
<line x1="474.4" y1="119.33" x2="475.5" y2="119.33" stroke="#000" stroke-width="1.0" />
<line x1="474.4" y1="99.38" x2="475.5" y2="99.38" stroke="#000" stroke-width="1.0" />
<line x1="474.4" y1="79.43" x2="475.5" y2="79.43" stroke="#000" stroke-width="1.0" />
<line x1="474.4" y1="59.48" x2="475.5" y2="59.48" stroke="#000" stroke-width="1.0" />
<line x1="474.4" y1="39.53" x2="475.5" y2="39.53" stroke="#000" stroke-width="1.0" />
<line x1="474.4" y1="19.58" x2="475.5" y2="19.58" stroke="#000" stroke-width="1.0" />
<text x="472.3" y="132.4" font-family='"Liberation Serif", serif' font-size="7.6" font-weight="bold" text-anchor="end" fill="#000" stroke="#000" stroke-width="0.28" >0</text>
<text x="472.3" y="112.45" font-family='"Liberation Serif", serif' font-size="7.6" font-weight="bold" text-anchor="end" fill="#000" stroke="#000" stroke-width="0.28" >5</text>
<text x="472.3" y="92.5" font-family='"Liberation Serif", serif' font-size="7.6" font-weight="bold" text-anchor="end" fill="#000" stroke="#000" stroke-width="0.28" >10</text>
<text x="472.3" y="72.55" font-family='"Liberation Serif", serif' font-size="7.6" font-weight="bold" text-anchor="end" fill="#000" stroke="#000" stroke-width="0.28" >15</text>
<text x="472.3" y="52.6" font-family='"Liberation Serif", serif' font-size="7.6" font-weight="bold" text-anchor="end" fill="#000" stroke="#000" stroke-width="0.28" >20</text>
<text x="472.3" y="32.65" font-family='"Liberation Serif", serif' font-size="7.6" font-weight="bold" text-anchor="end" fill="#000" stroke="#000" stroke-width="0.28" >25</text>
<text x="472.3" y="12.7" font-family='"Liberation Serif", serif' font-size="7.6" font-weight="bold" text-anchor="end" fill="#000" stroke="#000" stroke-width="0.28" >30</text>
<text x="482.3" y="138.9" font-family='"Liberation Serif", serif' font-size="7.8" font-weight="bold" text-anchor="middle" fill="#000" stroke="#000" stroke-width="0.28" >0.00</text>
<text x="521.05" y="138.9" font-family='"Liberation Serif", serif' font-size="7.8" font-weight="bold" text-anchor="middle" fill="#000" stroke="#000" stroke-width="0.28" >0.05</text>
<text x="559.8" y="138.9" font-family='"Liberation Serif", serif' font-size="7.8" font-weight="bold" text-anchor="middle" fill="#000" stroke="#000" stroke-width="0.28" >0.10</text>
<text x="598.55" y="138.9" font-family='"Liberation Serif", serif' font-size="7.8" font-weight="bold" text-anchor="middle" fill="#000" stroke="#000" stroke-width="0.28" >0.15</text>
<text x="637.3" y="138.9" font-family='"Liberation Serif", serif' font-size="7.8" font-weight="bold" text-anchor="middle" fill="#000" stroke="#000" stroke-width="0.28" >0.20</text>
<circle cx="483.07" cy="10.4" r="3.45" fill="url(#gr)"/>
<circle cx="483.85" cy="51.5" r="3.45" fill="url(#gr)"/>
<circle cx="486.18" cy="75.83" r="3.45" fill="url(#gr)"/>
<circle cx="487.73" cy="77.43" r="3.45" fill="url(#gr)"/>
<circle cx="490.05" cy="87.01" r="3.45" fill="url(#gr)"/>
<circle cx="497.8" cy="98.58" r="3.45" fill="url(#gr)"/>
<circle cx="521.05" cy="109.75" r="3.45" fill="url(#gr)"/>
<circle cx="540.42" cy="113.74" r="3.45" fill="url(#gr)"/>
<circle cx="559.8" cy="116.93" r="3.45" fill="url(#gr)"/>
<circle cx="575.3" cy="118.13" r="3.45" fill="url(#gr)"/>
<circle cx="598.55" cy="120.52" r="3.45" fill="url(#gr)"/>
<circle cx="637.3" cy="123.32" r="3.45" fill="url(#gr)"/>
<text x="537" y="150.3" font-family='"Liberation Sans", sans-serif' font-size="7.45" font-weight="bold" text-anchor="start" fill="#000" stroke="#000" stroke-width="0.28" textLength="49.6" lengthAdjust="spacingAndGlyphs" >Scanrate (V/s)</text>
<text x="461.8" y="65.2" font-family='"Liberation Sans", sans-serif' font-size="7.6" font-weight="bold" text-anchor="middle" fill="#000" stroke="#000" stroke-width="0.28" textLength="76.8" lengthAdjust="spacingAndGlyphs" transform="rotate(-90 461.8 65.2)" >Capacitance (mF/cm<tspan font-size="5" dy="-2.5">2</tspan><tspan dy="2.5">)</tspan></text>
<text x="634.2" y="12.9" font-family='"Liberation Sans", sans-serif' font-size="9.4" font-weight="bold" text-anchor="start" fill="#000" stroke="#000" stroke-width="0.28" >(c)</text>
<line x1="543.4" y1="46.6" x2="560.5" y2="46.6" stroke="#222" stroke-width="1.7" stroke-dasharray="0.01 3.6" stroke-linecap="round"/>
<circle cx="552.5" cy="46.6" r="3.45" fill="url(#gr)"/>
<text x="562.7" y="49.2" font-family='"Liberation Sans", sans-serif' font-size="7.4" font-weight="bold" text-anchor="start" fill="#000" stroke="#000" stroke-width="0.28" textLength="77.3" lengthAdjust="spacingAndGlyphs" >Capacitance (mF/cm<tspan font-size="4.6" dy="-2.6">2</tspan><tspan dy="2.6">)</tspan></text>
<path d="M39.4 262L39.48 260.86L39.59 259.24L39.72 257.34L39.87 255.37L40.03 253.52L40.2 252L40.38 250.8L40.59 249.77L40.8 248.86L41.03 248.03L41.26 247.26L41.5 246.5L41.74 245.8L41.98 245.21L42.23 244.67L42.5 244.12L42.78 243.52L43.1 242.8L43.45 241.94L43.83 240.97L44.23 239.95L44.65 238.91L45.07 237.92L45.5 237L45.92 236.17L46.34 235.39L46.77 234.65L47.22 233.93L47.69 233.22L48.2 232.5L48.74 231.77L49.31 231.05L49.91 230.33L50.53 229.63L51.16 228.95L51.8 228.3L52.41 227.71L53 227.17L53.59 226.66L54.25 226.13L55 225.56L55.9 224.9L56.98 224.14L58.2 223.31L59.53 222.43L60.91 221.53L62.28 220.64L63.6 219.8L64.86 219.03L66.09 218.32L67.32 217.62L68.57 216.89L69.85 216.1L71.2 215.2L72.62 214.16L74.1 213.02L75.61 211.81L77.15 210.57L78.68 209.35L80.2 208.2L81.66 207.14L83.06 206.15L84.47 205.17L85.93 204.17L87.49 203.1L89.2 201.9L91.1 200.54L93.16 199.05L95.31 197.49L97.52 195.9L99.73 194.36L101.9 192.9L104.06 191.51L106.26 190.14L108.46 188.8L110.63 187.52L112.72 186.31L114.7 185.2L116.66 184.15L118.64 183.15L120.55 182.22L122.28 181.4L123.73 180.71L124.8 180.2L124.8 180.2L124.83 181.81L124.88 184.03L124.94 186.66L125 189.5L125.05 192.35L125.1 195L125.14 197.49L125.17 199.98L125.2 202.47L125.23 204.98L125.26 207.49L125.3 210L125.34 212.61L125.38 215.34L125.42 218.08L125.47 220.71L125.53 223.12L125.6 225.2L125.68 226.89L125.76 228.29L125.86 229.46L125.96 230.49L126.07 231.48L126.2 232.5L126.32 233.48L126.43 234.34L126.55 235.14L126.7 235.97L126.91 236.9L127.2 238L127.56 239.31L127.97 240.79L128.44 242.37L128.97 243.97L129.56 245.54L130.2 247L130.9 248.38L131.65 249.73L132.46 251.04L133.33 252.3L134.28 253.49L135.3 254.6L136.4 255.59L137.58 256.47L138.83 257.27L140.15 258.07L141.54 258.89L143 259.8L144.53 260.75L146.12 261.7L147.78 262.69L149.51 263.74L151.32 264.9L153.2 266.2L155.12 267.67L157.09 269.27L159.12 270.98L161.26 272.76L163.54 274.58L166 276.4L168.61 278.22L171.35 280.06L174.23 281.94L177.27 283.87L180.49 285.85L183.9 287.9L187.86 290.19L192.43 292.75L197.17 295.37L201.66 297.83L205.48 299.91L208.2 301.4" fill="none" stroke="#444" stroke-width="1.9" stroke-linejoin="round" stroke-linecap="round" />
<path d="M40 225L40.03 223.53L40.07 221.44L40.12 219L40.17 216.44L40.23 214.03L40.3 212L40.37 210.4L40.43 209.04L40.51 207.81L40.59 206.63L40.69 205.39L40.8 204L40.93 202.43L41.07 200.74L41.22 199L41.4 197.26L41.59 195.57L41.8 194L42.04 192.53L42.3 191.13L42.57 189.78L42.87 188.47L43.18 187.22L43.5 186L43.86 184.77L44.28 183.51L44.71 182.3L45.11 181.2L45.45 180.28L45.7 179.6L45.7 179.6L45.71 180.62L45.73 181.94L45.74 183.55L45.76 185.44L45.78 187.59L45.8 190L45.82 192.78L45.83 195.96L45.85 199.4L45.87 202.98L45.88 206.56L45.9 210L45.92 213.39L45.93 216.85L45.94 220.31L45.96 223.7L45.98 226.96L46 230L46.03 232.81L46.05 235.44L46.08 237.94L46.11 240.33L46.15 242.67L46.2 245L46.25 247.29L46.31 249.52L46.37 251.69L46.44 253.81L46.51 255.91L46.6 258L46.69 260.06L46.79 262.07L46.9 264.06L47.02 266.04L47.15 268.01L47.3 270L47.47 272.02L47.65 274.07L47.85 276.12L48.06 278.15L48.28 280.12L48.5 282L48.73 283.79L48.96 285.5L49.2 287.16L49.45 288.78L49.72 290.39L50 292L50.33 293.72L50.7 295.56L51.09 297.38L51.46 299.06L51.78 300.47L52 301.5" fill="none" stroke="#ef3b3b" stroke-width="1.9" stroke-linejoin="round" stroke-linecap="round" />
<rect x="39.2" y="171" width="178.8" height="139.4" fill="none" stroke="#000" stroke-width="1.5"/>
<line x1="39.1" y1="310.4" x2="39.1" y2="308.4" stroke="#000" stroke-width="1.25" />
<line x1="66.7" y1="310.4" x2="66.7" y2="308.4" stroke="#000" stroke-width="1.25" />
<line x1="94.3" y1="310.4" x2="94.3" y2="308.4" stroke="#000" stroke-width="1.25" />
<line x1="121.9" y1="310.4" x2="121.9" y2="308.4" stroke="#000" stroke-width="1.25" />
<line x1="149.5" y1="310.4" x2="149.5" y2="308.4" stroke="#000" stroke-width="1.25" />
<line x1="177.1" y1="310.4" x2="177.1" y2="308.4" stroke="#000" stroke-width="1.25" />
<line x1="204.7" y1="310.4" x2="204.7" y2="308.4" stroke="#000" stroke-width="1.25" />
<line x1="52.9" y1="310.4" x2="52.9" y2="309.3" stroke="#000" stroke-width="1.0" />
<line x1="80.5" y1="310.4" x2="80.5" y2="309.3" stroke="#000" stroke-width="1.0" />
<line x1="108.1" y1="310.4" x2="108.1" y2="309.3" stroke="#000" stroke-width="1.0" />
<line x1="135.7" y1="310.4" x2="135.7" y2="309.3" stroke="#000" stroke-width="1.0" />
<line x1="163.3" y1="310.4" x2="163.3" y2="309.3" stroke="#000" stroke-width="1.0" />
<line x1="190.9" y1="310.4" x2="190.9" y2="309.3" stroke="#000" stroke-width="1.0" />
<line x1="39.2" y1="301.5" x2="41.2" y2="301.5" stroke="#000" stroke-width="1.25" />
<line x1="39.2" y1="271.2" x2="41.2" y2="271.2" stroke="#000" stroke-width="1.25" />
<line x1="39.2" y1="240.9" x2="41.2" y2="240.9" stroke="#000" stroke-width="1.25" />
<line x1="39.2" y1="210.6" x2="41.2" y2="210.6" stroke="#000" stroke-width="1.25" />
<line x1="39.2" y1="180.3" x2="41.2" y2="180.3" stroke="#000" stroke-width="1.25" />
<line x1="39.2" y1="286.35" x2="40.3" y2="286.35" stroke="#000" stroke-width="1.0" />
<line x1="39.2" y1="256.05" x2="40.3" y2="256.05" stroke="#000" stroke-width="1.0" />
<line x1="39.2" y1="225.75" x2="40.3" y2="225.75" stroke="#000" stroke-width="1.0" />
<line x1="39.2" y1="195.45" x2="40.3" y2="195.45" stroke="#000" stroke-width="1.0" />
<text x="36" y="183.5" font-family='"Liberation Serif", serif' font-size="7.8" font-weight="bold" text-anchor="end" fill="#000" stroke="#000" stroke-width="0.28" >1.0</text>
<text x="36" y="213.8" font-family='"Liberation Serif", serif' font-size="7.8" font-weight="bold" text-anchor="end" fill="#000" stroke="#000" stroke-width="0.28" >0.5</text>
<text x="36" y="244.1" font-family='"Liberation Serif", serif' font-size="7.8" font-weight="bold" text-anchor="end" fill="#000" stroke="#000" stroke-width="0.28" >0.0</text>
<text x="36" y="274.4" font-family='"Liberation Serif", serif' font-size="7.8" font-weight="bold" text-anchor="end" fill="#000" stroke="#000" stroke-width="0.28" >−0.5</text>
<text x="36" y="304.7" font-family='"Liberation Serif", serif' font-size="7.8" font-weight="bold" text-anchor="end" fill="#000" stroke="#000" stroke-width="0.28" >−1.0</text>
<text x="39.1" y="319.8" font-family='"Liberation Serif", serif' font-size="7.8" font-weight="bold" text-anchor="middle" fill="#000" stroke="#000" stroke-width="0.28" >0</text>
<text x="66.7" y="319.8" font-family='"Liberation Serif", serif' font-size="7.8" font-weight="bold" text-anchor="middle" fill="#000" stroke="#000" stroke-width="0.28" >20</text>
<text x="94.3" y="319.8" font-family='"Liberation Serif", serif' font-size="7.8" font-weight="bold" text-anchor="middle" fill="#000" stroke="#000" stroke-width="0.28" >40</text>
<text x="121.9" y="319.8" font-family='"Liberation Serif", serif' font-size="7.8" font-weight="bold" text-anchor="middle" fill="#000" stroke="#000" stroke-width="0.28" >60</text>
<text x="149.5" y="319.8" font-family='"Liberation Serif", serif' font-size="7.8" font-weight="bold" text-anchor="middle" fill="#000" stroke="#000" stroke-width="0.28" >80</text>
<text x="177.1" y="319.8" font-family='"Liberation Serif", serif' font-size="7.8" font-weight="bold" text-anchor="middle" fill="#000" stroke="#000" stroke-width="0.28" >100</text>
<text x="204.7" y="319.8" font-family='"Liberation Serif", serif' font-size="7.8" font-weight="bold" text-anchor="middle" fill="#000" stroke="#000" stroke-width="0.28" >120</text>
<text x="113.8" y="333.2" font-family='"Liberation Sans", sans-serif' font-size="7.7" font-weight="bold" text-anchor="start" fill="#000" stroke="#000" stroke-width="0.28" textLength="29.6" lengthAdjust="spacingAndGlyphs" >Time (s)</text>
<text x="19.1" y="240.8" font-family='"Liberation Sans", sans-serif' font-size="7.8" font-weight="bold" text-anchor="middle" fill="#000" stroke="#000" stroke-width="0.28" textLength="45.4" lengthAdjust="spacingAndGlyphs" transform="rotate(-90 19.1 240.8)" >Potential (V)</text>
<text x="202.6" y="182.6" font-family='"Liberation Sans", sans-serif' font-size="9.6" font-weight="bold" text-anchor="start" fill="#000" stroke="#000" stroke-width="0.28" >(d)</text>
<line x1="143" y1="212.6" x2="161.5" y2="212.6" stroke="#3f3f3f" stroke-width="2" />
<line x1="143" y1="222.7" x2="161.5" y2="222.7" stroke="#ee3434" stroke-width="2" />
<text x="163.3" y="215.5" font-family='"Liberation Sans", sans-serif' font-size="7.8" font-weight="bold" text-anchor="start" fill="#000" stroke="#000" stroke-width="0.28" textLength="45.8" lengthAdjust="spacingAndGlyphs" >0.2mA/cm^2</text>
<text x="163.3" y="225.6" font-family='"Liberation Sans", sans-serif' font-size="7.8" font-weight="bold" text-anchor="start" fill="#000" stroke="#000" stroke-width="0.28" textLength="45.8" lengthAdjust="spacingAndGlyphs" >0.5mA/cm^2</text>
<line x1="253.4" y1="181.6" x2="416" y2="297.6" stroke="#111" stroke-width="2.0" stroke-dasharray="0.01 4.2" stroke-linecap="round"/>
<rect x="240.1" y="172.5" width="189.9" height="137.6" fill="none" stroke="#000" stroke-width="1.6"/>
<line x1="253.2" y1="310.1" x2="253.2" y2="307.9" stroke="#000" stroke-width="1.25" />
<line x1="280.4" y1="310.1" x2="280.4" y2="307.9" stroke="#000" stroke-width="1.25" />
<line x1="307.6" y1="310.1" x2="307.6" y2="307.9" stroke="#000" stroke-width="1.25" />
<line x1="334.8" y1="310.1" x2="334.8" y2="307.9" stroke="#000" stroke-width="1.25" />
<line x1="362" y1="310.1" x2="362" y2="307.9" stroke="#000" stroke-width="1.25" />
<line x1="389.2" y1="310.1" x2="389.2" y2="307.9" stroke="#000" stroke-width="1.25" />
<line x1="416.4" y1="310.1" x2="416.4" y2="307.9" stroke="#000" stroke-width="1.25" />
<line x1="266.8" y1="310.1" x2="266.8" y2="308.9" stroke="#000" stroke-width="1.0" />
<line x1="294" y1="310.1" x2="294" y2="308.9" stroke="#000" stroke-width="1.0" />
<line x1="321.2" y1="310.1" x2="321.2" y2="308.9" stroke="#000" stroke-width="1.0" />
<line x1="348.4" y1="310.1" x2="348.4" y2="308.9" stroke="#000" stroke-width="1.0" />
<line x1="375.6" y1="310.1" x2="375.6" y2="308.9" stroke="#000" stroke-width="1.0" />
<line x1="402.8" y1="310.1" x2="402.8" y2="308.9" stroke="#000" stroke-width="1.0" />
<line x1="240.1" y1="299.6" x2="242.1" y2="299.6" stroke="#000" stroke-width="1.25" />
<line x1="240.1" y1="276.45" x2="242.1" y2="276.45" stroke="#000" stroke-width="1.25" />
<line x1="240.1" y1="253.3" x2="242.1" y2="253.3" stroke="#000" stroke-width="1.25" />
<line x1="240.1" y1="230.15" x2="242.1" y2="230.15" stroke="#000" stroke-width="1.25" />
<line x1="240.1" y1="207" x2="242.1" y2="207" stroke="#000" stroke-width="1.25" />
<line x1="240.1" y1="183.85" x2="242.1" y2="183.85" stroke="#000" stroke-width="1.25" />
<line x1="240.1" y1="311.18" x2="241.2" y2="311.18" stroke="#000" stroke-width="1.0" />
<line x1="240.1" y1="288.02" x2="241.2" y2="288.02" stroke="#000" stroke-width="1.0" />
<line x1="240.1" y1="264.88" x2="241.2" y2="264.88" stroke="#000" stroke-width="1.0" />
<line x1="240.1" y1="241.72" x2="241.2" y2="241.72" stroke="#000" stroke-width="1.0" />
<line x1="240.1" y1="218.57" x2="241.2" y2="218.57" stroke="#000" stroke-width="1.0" />
<line x1="240.1" y1="195.43" x2="241.2" y2="195.43" stroke="#000" stroke-width="1.0" />
<line x1="240.1" y1="172.28" x2="241.2" y2="172.28" stroke="#000" stroke-width="1.0" />
<text x="236.8" y="303" font-family='"Liberation Serif", serif' font-size="8" font-weight="bold" text-anchor="end" fill="#000" stroke="#000" stroke-width="0.28" >1</text>
<text x="236.8" y="279.85" font-family='"Liberation Serif", serif' font-size="8" font-weight="bold" text-anchor="end" fill="#000" stroke="#000" stroke-width="0.28" >2</text>
<text x="236.8" y="256.7" font-family='"Liberation Serif", serif' font-size="8" font-weight="bold" text-anchor="end" fill="#000" stroke="#000" stroke-width="0.28" >3</text>
<text x="236.8" y="233.55" font-family='"Liberation Serif", serif' font-size="8" font-weight="bold" text-anchor="end" fill="#000" stroke="#000" stroke-width="0.28" >4</text>
<text x="236.8" y="210.4" font-family='"Liberation Serif", serif' font-size="8" font-weight="bold" text-anchor="end" fill="#000" stroke="#000" stroke-width="0.28" >5</text>
<text x="236.8" y="187.25" font-family='"Liberation Serif", serif' font-size="8" font-weight="bold" text-anchor="end" fill="#000" stroke="#000" stroke-width="0.28" >6</text>
<text x="253.2" y="320.5" font-family='"Liberation Serif", serif' font-size="7.8" font-weight="bold" text-anchor="middle" fill="#000" stroke="#000" stroke-width="0.28" >0.20</text>
<text x="280.4" y="320.5" font-family='"Liberation Serif", serif' font-size="7.8" font-weight="bold" text-anchor="middle" fill="#000" stroke="#000" stroke-width="0.28" >0.25</text>
<text x="307.6" y="320.5" font-family='"Liberation Serif", serif' font-size="7.8" font-weight="bold" text-anchor="middle" fill="#000" stroke="#000" stroke-width="0.28" >0.30</text>
<text x="334.8" y="320.5" font-family='"Liberation Serif", serif' font-size="7.8" font-weight="bold" text-anchor="middle" fill="#000" stroke="#000" stroke-width="0.28" >0.35</text>
<text x="362" y="320.5" font-family='"Liberation Serif", serif' font-size="7.8" font-weight="bold" text-anchor="middle" fill="#000" stroke="#000" stroke-width="0.28" >0.40</text>
<text x="389.2" y="320.5" font-family='"Liberation Serif", serif' font-size="7.8" font-weight="bold" text-anchor="middle" fill="#000" stroke="#000" stroke-width="0.28" >0.45</text>
<text x="416.4" y="320.5" font-family='"Liberation Serif", serif' font-size="7.8" font-weight="bold" text-anchor="middle" fill="#000" stroke="#000" stroke-width="0.28" >0.50</text>
<circle cx="253.6" cy="181.6" r="4.3" fill="url(#gb)"/>
<circle cx="416.2" cy="297.5" r="4.3" fill="url(#gb)"/>
<text x="308.4" y="333.8" font-family='"Liberation Sans", sans-serif' font-size="8.5" font-weight="bold" text-anchor="start" fill="#000" stroke="#000" stroke-width="0.28" textLength="52.8" lengthAdjust="spacingAndGlyphs" >Current (mA)</text>
<text x="229.9" y="241" font-family='"Liberation Sans", sans-serif' font-size="8.6" font-weight="bold" text-anchor="middle" fill="#000" stroke="#000" stroke-width="0.28" textLength="89.6" lengthAdjust="spacingAndGlyphs" transform="rotate(-90 229.9 241)" >Capacitance (mFcm<tspan font-size="5.4" dy="-2.8">−2</tspan><tspan dy="2.8">)</tspan></text>
<text x="409" y="184.8" font-family='"Liberation Sans", sans-serif' font-size="10.8" font-weight="bold" text-anchor="start" fill="#000" stroke="#000" stroke-width="0.28" >(e)</text>
<line x1="346.8" y1="212.2" x2="365.6" y2="212.2" stroke="#111" stroke-width="2.0" stroke-dasharray="0.01 4.2" stroke-linecap="round"/>
<circle cx="357.5" cy="212.2" r="4.3" fill="url(#gb)"/>
<text x="370.3" y="215.1" font-family='"Liberation Sans", sans-serif' font-size="8" font-weight="bold" text-anchor="start" fill="#000" stroke="#000" stroke-width="0.28" textLength="30" lengthAdjust="spacingAndGlyphs" >mFcm<tspan font-size="5" dy="-2.8">−2</tspan></text>
<path d="M486 306.8L486.23 306.72L486.53 306.63L486.87 306.52L487.26 306.39L487.69 306.26L488.14 306.11L488.6 305.96L489.07 305.81L489.54 305.65L490 305.5L490.46 305.35L490.93 305.19L491.41 305.02L491.9 304.85L492.41 304.68L492.92 304.51L493.43 304.33L493.95 304.15L494.48 303.98L495 303.8L495.53 303.63L496.05 303.47L496.58 303.31L497.12 303.15L497.66 302.99L498.2 302.83L498.76 302.65L499.33 302.45L499.91 302.24L500.5 302L501.11 301.74L501.74 301.45L502.39 301.15L503.04 300.83L503.71 300.5L504.37 300.16L505.04 299.82L505.7 299.48L506.36 299.13L507 298.8L507.63 298.47L508.25 298.12L508.86 297.78L509.47 297.43L510.08 297.08L510.69 296.73L511.31 296.39L511.93 296.05L512.56 295.72L513.2 295.4L513.86 295.09L514.53 294.77L515.22 294.46L515.92 294.16L516.61 293.86L517.31 293.56L518 293.28L518.68 293.01L519.35 292.75L520 292.5L520.63 292.27L521.24 292.05L521.84 291.85L522.43 291.66L523.02 291.48L523.6 291.3L524.19 291.13L524.78 290.96L525.38 290.78L526 290.6L526.63 290.42L527.27 290.24L527.92 290.06L528.57 289.88L529.23 289.71L529.89 289.53L530.55 289.35L531.2 289.17L531.86 288.99L532.5 288.8L533.14 288.61L533.77 288.42L534.41 288.23L535.04 288.04L535.67 287.84L536.3 287.65L536.92 287.44L537.55 287.24L538.17 287.02L538.8 286.8L539.42 286.57L540.05 286.34L540.67 286.1L541.3 285.86L541.92 285.61L542.54 285.36L543.16 285.1L543.77 284.84L544.39 284.57L545 284.3L545.61 284.03L546.21 283.75L546.81 283.47L547.41 283.19L548.01 282.9L548.61 282.6L549.21 282.3L549.8 281.98L550.4 281.65L551 281.3L551.6 280.94L552.2 280.57L552.8 280.19L553.4 279.79L554 279.39L554.6 278.97L555.2 278.55L555.8 278.11L556.4 277.66L557 277.2L557.6 276.73L558.19 276.24L558.78 275.75L559.38 275.24L559.97 274.72L560.56 274.19L561.16 273.65L561.77 273.11L562.38 272.56L563 272L563.63 271.44L564.27 270.87L564.91 270.29L565.56 269.71L566.22 269.11L566.88 268.51L567.53 267.9L568.19 267.28L568.85 266.64L569.5 266L570.14 265.36L570.75 264.74L571.36 264.12L571.96 263.5L572.56 262.86L573.18 262.19L573.83 261.48L574.51 260.72L575.23 259.89L576 259L576.83 258L577.73 256.87L578.67 255.67L579.65 254.4L580.64 253.11L581.65 251.82L582.65 250.56L583.64 249.37L584.59 248.27L585.5 247.3L586.37 246.46L587.23 245.74L588.07 245.1L588.9 244.52L589.71 243.98L590.52 243.46L591.32 242.92L592.11 242.35L592.91 241.72L593.7 241L594.49 240.22L595.27 239.41L596.05 238.58L596.82 237.71L597.59 236.82L598.35 235.91L599.11 234.97L599.87 234L600.64 233.01L601.4 232L602.15 230.96L602.86 229.88L603.56 228.77L604.26 227.64L604.96 226.49L605.68 225.31L606.43 224.12L607.23 222.92L608.08 221.71L609 220.5L610.01 219.28L611.12 218.04L612.29 216.78L613.52 215.51L614.76 214.23L616.01 212.94L617.24 211.64L618.43 210.33L619.56 209.02L620.6 207.7L621.59 206.31L622.59 204.81L623.57 203.25L624.52 201.66L625.42 200.1L626.27 198.6L627.05 197.21L627.74 195.96L628.33 194.91L628.8 194.1" fill="none" stroke="#000" stroke-width="1.8" stroke-linejoin="round" stroke-linecap="round" />
<circle cx="487.32" cy="306.38" r="4.4" fill="url(#gk)"/>
<circle cx="489.79" cy="305.57" r="4.4" fill="url(#gk)"/>
<circle cx="492.25" cy="304.73" r="4.4" fill="url(#gk)"/>
<circle cx="494.71" cy="303.9" r="4.4" fill="url(#gk)"/>
<circle cx="497.2" cy="303.13" r="4.4" fill="url(#gk)"/>
<circle cx="499.67" cy="302.33" r="4.4" fill="url(#gk)"/>
<circle cx="502.06" cy="301.3" r="4.4" fill="url(#gk)"/>
<circle cx="504.39" cy="300.15" r="4.4" fill="url(#gk)"/>
<circle cx="506.7" cy="298.96" r="4.4" fill="url(#gk)"/>
<circle cx="508.98" cy="297.71" r="4.4" fill="url(#gk)"/>
<circle cx="511.24" cy="296.43" r="4.4" fill="url(#gk)"/>
<circle cx="513.55" cy="295.23" r="4.4" fill="url(#gk)"/>
<circle cx="515.92" cy="294.16" r="4.4" fill="url(#gk)"/>
<circle cx="518.32" cy="293.15" r="4.4" fill="url(#gk)"/>
<circle cx="520.74" cy="292.23" r="4.4" fill="url(#gk)"/>
<circle cx="523.22" cy="291.42" r="4.4" fill="url(#gk)"/>
<circle cx="525.71" cy="290.69" r="4.4" fill="url(#gk)"/>
<circle cx="528.21" cy="289.98" r="4.4" fill="url(#gk)"/>
<circle cx="530.72" cy="289.3" r="4.4" fill="url(#gk)"/>
<circle cx="533.22" cy="288.59" r="4.4" fill="url(#gk)"/>
<circle cx="535.71" cy="287.83" r="4.4" fill="url(#gk)"/>
<circle cx="538.18" cy="287.02" r="4.4" fill="url(#gk)"/>
<circle cx="540.62" cy="286.12" r="4.4" fill="url(#gk)"/>
<circle cx="543.03" cy="285.15" r="4.4" fill="url(#gk)"/>
<circle cx="545.41" cy="284.11" r="4.4" fill="url(#gk)"/>
<circle cx="547.77" cy="283.02" r="4.4" fill="url(#gk)"/>
<circle cx="550.08" cy="281.82" r="4.4" fill="url(#gk)"/>
<circle cx="552.32" cy="280.49" r="4.4" fill="url(#gk)"/>
<circle cx="554.48" cy="279.05" r="4.4" fill="url(#gk)"/>
<circle cx="556.64" cy="277.48" r="4.4" fill="url(#gk)"/>
<circle cx="559" cy="275.56" r="4.4" fill="url(#gk)"/>
<circle cx="561.58" cy="273.28" r="4.4" fill="url(#gk)"/>
<circle cx="564.5" cy="270.66" r="4.4" fill="url(#gk)"/>
<circle cx="567.79" cy="267.66" r="4.4" fill="url(#gk)"/>
<circle cx="571.39" cy="264.09" r="4.4" fill="url(#gk)"/>
<circle cx="575.27" cy="259.85" r="4.4" fill="url(#gk)"/>
<circle cx="579.37" cy="254.76" r="4.4" fill="url(#gk)"/>
<circle cx="584" cy="248.95" r="4.4" fill="url(#gk)"/>
<circle cx="590.42" cy="243.52" r="4.4" fill="url(#gk)"/>
<circle cx="597.42" cy="237.02" r="4.4" fill="url(#gk)"/>
<circle cx="603.88" cy="228.25" r="4.4" fill="url(#gk)"/>
<circle cx="611.02" cy="218.15" r="4.4" fill="url(#gk)"/>
<circle cx="620.53" cy="207.79" r="4.4" fill="url(#gk)"/>
<circle cx="628.8" cy="194.1" r="4.4" fill="url(#gk)"/>
<path d="M491.6 309.4L491.83 309.11L492.11 308.72L492.45 308.27L492.83 307.76L493.24 307.21L493.67 306.64L494.13 306.07L494.59 305.51L495.05 304.98L495.5 304.5L495.95 304.05L496.42 303.62L496.9 303.2L497.4 302.79L497.9 302.39L498.41 301.98L498.93 301.57L499.45 301.16L499.97 300.74L500.5 300.3L501.02 299.85L501.54 299.38L502.06 298.91L502.58 298.43L503.11 297.95L503.65 297.47L504.21 296.99L504.78 296.52L505.38 296.05L506 295.6L506.66 295.15L507.35 294.7L508.06 294.25L508.8 293.81L509.55 293.37L510.3 292.94L511.05 292.53L511.79 292.13L512.51 291.75L513.2 291.4L513.87 291.07L514.51 290.77L515.15 290.48L515.78 290.22L516.39 289.96L517.01 289.72L517.62 289.49L518.24 289.26L518.87 289.03L519.5 288.8L520.14 288.57L520.79 288.36L521.44 288.15L522.09 287.94L522.74 287.74L523.39 287.55L524.04 287.36L524.7 287.17L525.35 286.99L526 286.8L526.65 286.62L527.3 286.44L527.96 286.27L528.61 286.11L529.26 285.94L529.91 285.78L530.56 285.62L531.21 285.45L531.86 285.28L532.5 285.1L533.14 284.92L533.79 284.73L534.44 284.54L535.09 284.35L535.73 284.16L536.37 283.97L537 283.78L537.61 283.58L538.22 283.39L538.8 283.2L539.37 283.01L539.91 282.83L540.45 282.66L540.97 282.48L541.48 282.3L541.99 282.12L542.49 281.93L542.99 281.73L543.49 281.52L544 281.3L544.51 281.07L545 280.83L545.5 280.58L545.99 280.32L546.48 280.06L546.97 279.78L547.47 279.5L547.97 279.21L548.48 278.91L549 278.6L549.53 278.28L550.08 277.94L550.64 277.6L551.2 277.24L551.76 276.88L552.33 276.51L552.89 276.14L553.44 275.76L553.98 275.38L554.5 275L555 274.62L555.49 274.24L555.96 273.86L556.43 273.48L556.89 273.09L557.35 272.69L557.82 272.29L558.29 271.87L558.79 271.44L559.3 271L559.84 270.54L560.4 270.05L560.98 269.54L561.57 269.02L562.17 268.5L562.76 267.98L563.35 267.46L563.92 266.95L564.47 266.46L565 266L565.48 265.57L565.93 265.17L566.34 264.8L566.73 264.44L567.12 264.09L567.53 263.72L567.95 263.34L568.41 262.94L568.93 262.49L569.5 262L570.15 261.46L570.86 260.87L571.62 260.26L572.41 259.61L573.23 258.95L574.06 258.28L574.88 257.6L575.69 256.92L576.47 256.25L577.2 255.6L577.89 254.96L578.54 254.33L579.17 253.7L579.79 253.06L580.4 252.43L581.01 251.8L581.63 251.16L582.26 250.51L582.91 249.86L583.6 249.2L584.31 248.54L585.04 247.88L585.79 247.21L586.54 246.55L587.31 245.88L588.09 245.19L588.88 244.5L589.68 243.78L590.49 243.05L591.3 242.3L592.12 241.52L592.95 240.73L593.78 239.91L594.63 239.08L595.48 238.24L596.34 237.38L597.22 236.52L598.1 235.65L599 234.78L599.9 233.9L600.82 233.02L601.75 232.13L602.69 231.24L603.64 230.33L604.6 229.43L605.57 228.51L606.54 227.59L607.53 226.66L608.51 225.73L609.5 224.8L610.49 223.87L611.47 222.95L612.46 222.03L613.45 221.11L614.45 220.18L615.46 219.24L616.49 218.27L617.54 217.28L618.6 216.26L619.7 215.2L620.82 214.1L621.96 212.96L623.11 211.79L624.29 210.6L625.48 209.38L626.69 208.15L627.92 206.91L629.16 205.67L630.42 204.43L631.7 203.2L633.06 201.91L634.55 200.53L636.12 199.09L637.72 197.64L639.3 196.2L640.82 194.82L642.24 193.55L643.51 192.41L644.58 191.45L645.4 190.7" fill="none" stroke="#ff1010" stroke-width="1.6" stroke-linejoin="round" stroke-linecap="round" stroke-dasharray="2.5 1.5"/>
<circle cx="492.04" cy="308.82" r="4.4" fill="url(#gr)"/>
<circle cx="493.6" cy="306.74" r="4.4" fill="url(#gr)"/>
<circle cx="495.27" cy="304.75" r="4.4" fill="url(#gr)"/>
<circle cx="497.17" cy="302.98" r="4.4" fill="url(#gr)"/>
<circle cx="499.2" cy="301.36" r="4.4" fill="url(#gr)"/>
<circle cx="501.2" cy="299.69" r="4.4" fill="url(#gr)"/>
<circle cx="503.12" cy="297.94" r="4.4" fill="url(#gr)"/>
<circle cx="505.11" cy="296.26" r="4.4" fill="url(#gr)"/>
<circle cx="507.24" cy="294.77" r="4.4" fill="url(#gr)"/>
<circle cx="509.46" cy="293.42" r="4.4" fill="url(#gr)"/>
<circle cx="511.73" cy="292.16" r="4.4" fill="url(#gr)"/>
<circle cx="514.05" cy="290.99" r="4.4" fill="url(#gr)"/>
<circle cx="516.43" cy="289.95" r="4.4" fill="url(#gr)"/>
<circle cx="518.87" cy="289.03" r="4.4" fill="url(#gr)"/>
<circle cx="521.33" cy="288.18" r="4.4" fill="url(#gr)"/>
<circle cx="523.98" cy="287.38" r="4.4" fill="url(#gr)"/>
<circle cx="526.95" cy="286.54" r="4.4" fill="url(#gr)"/>
<circle cx="530.27" cy="285.69" r="4.4" fill="url(#gr)"/>
<circle cx="533.95" cy="284.69" r="4.4" fill="url(#gr)"/>
<circle cx="538" cy="283.46" r="4.4" fill="url(#gr)"/>
<circle cx="542.45" cy="281.94" r="4.4" fill="url(#gr)"/>
<circle cx="547.15" cy="279.68" r="4.4" fill="url(#gr)"/>
<circle cx="552.11" cy="276.66" r="4.4" fill="url(#gr)"/>
<circle cx="557.25" cy="272.78" r="4.4" fill="url(#gr)"/>
<circle cx="562.66" cy="268.07" r="4.4" fill="url(#gr)"/>
<circle cx="568.6" cy="262.77" r="4.4" fill="url(#gr)"/>
<circle cx="575.43" cy="257.14" r="4.4" fill="url(#gr)"/>
<circle cx="582.48" cy="250.29" r="4.4" fill="url(#gr)"/>
<circle cx="590.58" cy="242.97" r="4.4" fill="url(#gr)"/>
<circle cx="599.28" cy="234.5" r="4.4" fill="url(#gr)"/>
<circle cx="609.06" cy="225.22" r="4.4" fill="url(#gr)"/>
<circle cx="619.96" cy="214.94" r="4.4" fill="url(#gr)"/>
<circle cx="631.73" cy="203.17" r="4.4" fill="url(#gr)"/>
<circle cx="645.4" cy="190.7" r="4.4" fill="url(#gr)"/>
<rect x="462.3" y="167.2" width="205.5" height="156.9" fill="none" stroke="#000" stroke-width="1.6"/>
<line x1="476.64" y1="324.1" x2="476.64" y2="321.5" stroke="#000" stroke-width="1.25" />
<line x1="506.08" y1="324.1" x2="506.08" y2="321.5" stroke="#000" stroke-width="1.25" />
<line x1="535.52" y1="324.1" x2="535.52" y2="321.5" stroke="#000" stroke-width="1.25" />
<line x1="564.96" y1="324.1" x2="564.96" y2="321.5" stroke="#000" stroke-width="1.25" />
<line x1="594.4" y1="324.1" x2="594.4" y2="321.5" stroke="#000" stroke-width="1.25" />
<line x1="623.84" y1="324.1" x2="623.84" y2="321.5" stroke="#000" stroke-width="1.25" />
<line x1="653.28" y1="324.1" x2="653.28" y2="321.5" stroke="#000" stroke-width="1.25" />
<line x1="461.92" y1="324.1" x2="461.92" y2="322.8" stroke="#000" stroke-width="1.0" />
<line x1="491.36" y1="324.1" x2="491.36" y2="322.8" stroke="#000" stroke-width="1.0" />
<line x1="520.8" y1="324.1" x2="520.8" y2="322.8" stroke="#000" stroke-width="1.0" />
<line x1="550.24" y1="324.1" x2="550.24" y2="322.8" stroke="#000" stroke-width="1.0" />
<line x1="579.68" y1="324.1" x2="579.68" y2="322.8" stroke="#000" stroke-width="1.0" />
<line x1="609.12" y1="324.1" x2="609.12" y2="322.8" stroke="#000" stroke-width="1.0" />
<line x1="638.56" y1="324.1" x2="638.56" y2="322.8" stroke="#000" stroke-width="1.0" />
<line x1="462.3" y1="309.6" x2="464.5" y2="309.6" stroke="#000" stroke-width="1.25" />
<line x1="462.3" y1="281.18" x2="464.5" y2="281.18" stroke="#000" stroke-width="1.25" />
<line x1="462.3" y1="252.76" x2="464.5" y2="252.76" stroke="#000" stroke-width="1.25" />
<line x1="462.3" y1="224.34" x2="464.5" y2="224.34" stroke="#000" stroke-width="1.25" />
<line x1="462.3" y1="195.92" x2="464.5" y2="195.92" stroke="#000" stroke-width="1.25" />
<line x1="462.3" y1="167.5" x2="464.5" y2="167.5" stroke="#000" stroke-width="1.25" />
<line x1="462.3" y1="323.81" x2="463.5" y2="323.81" stroke="#000" stroke-width="1.0" />
<line x1="462.3" y1="295.39" x2="463.5" y2="295.39" stroke="#000" stroke-width="1.0" />
<line x1="462.3" y1="266.97" x2="463.5" y2="266.97" stroke="#000" stroke-width="1.0" />
<line x1="462.3" y1="238.55" x2="463.5" y2="238.55" stroke="#000" stroke-width="1.0" />
<line x1="462.3" y1="210.13" x2="463.5" y2="210.13" stroke="#000" stroke-width="1.0" />
<line x1="462.3" y1="181.71" x2="463.5" y2="181.71" stroke="#000" stroke-width="1.0" />
<text x="459.4" y="313.3" font-family='"Liberation Serif", serif' font-size="9" font-weight="bold" text-anchor="end" fill="#000" stroke="#000" stroke-width="0.28" >0</text>
<text x="459.4" y="284.88" font-family='"Liberation Serif", serif' font-size="9" font-weight="bold" text-anchor="end" fill="#000" stroke="#000" stroke-width="0.28" >200</text>
<text x="459.4" y="256.46" font-family='"Liberation Serif", serif' font-size="9" font-weight="bold" text-anchor="end" fill="#000" stroke="#000" stroke-width="0.28" >400</text>
<text x="459.4" y="228.04" font-family='"Liberation Serif", serif' font-size="9" font-weight="bold" text-anchor="end" fill="#000" stroke="#000" stroke-width="0.28" >600</text>
<text x="459.4" y="199.62" font-family='"Liberation Serif", serif' font-size="9" font-weight="bold" text-anchor="end" fill="#000" stroke="#000" stroke-width="0.28" >800</text>
<text x="459.4" y="171.2" font-family='"Liberation Serif", serif' font-size="9" font-weight="bold" text-anchor="end" fill="#000" stroke="#000" stroke-width="0.28" >1000</text>
<text x="476.64" y="334.8" font-family='"Liberation Serif", serif' font-size="8.8" font-weight="bold" text-anchor="middle" fill="#000" stroke="#000" stroke-width="0.28" >200</text>
<text x="506.08" y="334.8" font-family='"Liberation Serif", serif' font-size="8.8" font-weight="bold" text-anchor="middle" fill="#000" stroke="#000" stroke-width="0.28" >400</text>
<text x="535.52" y="334.8" font-family='"Liberation Serif", serif' font-size="8.8" font-weight="bold" text-anchor="middle" fill="#000" stroke="#000" stroke-width="0.28" >600</text>
<text x="564.96" y="334.8" font-family='"Liberation Serif", serif' font-size="8.8" font-weight="bold" text-anchor="middle" fill="#000" stroke="#000" stroke-width="0.28" >800</text>
<text x="594.4" y="334.8" font-family='"Liberation Serif", serif' font-size="8.8" font-weight="bold" text-anchor="middle" fill="#000" stroke="#000" stroke-width="0.28" >1000</text>
<text x="623.84" y="334.8" font-family='"Liberation Serif", serif' font-size="8.8" font-weight="bold" text-anchor="middle" fill="#000" stroke="#000" stroke-width="0.28" >1200</text>
<text x="653.28" y="334.8" font-family='"Liberation Serif", serif' font-size="8.8" font-weight="bold" text-anchor="middle" fill="#000" stroke="#000" stroke-width="0.28" >1400</text>
<text x="547.3" y="349.9" font-family='"Liberation Sans", sans-serif' font-size="9.0" font-weight="bold" text-anchor="start" fill="#000" stroke="#000" stroke-width="0.28" textLength="35.5" lengthAdjust="spacingAndGlyphs" >Z' (ohm)</text>
<text x="438.3" y="244.5" font-family='"Liberation Sans", sans-serif' font-size="8.5" font-weight="bold" text-anchor="middle" fill="#000" stroke="#000" stroke-width="0.28" textLength="38" lengthAdjust="spacingAndGlyphs" transform="rotate(-90 438.3 244.5)" >-Z'' (ohm)</text>
<text x="608.2" y="186.2" font-family='"Liberation Sans", sans-serif' font-size="12" font-weight="bold" text-anchor="start" fill="#000" stroke="#000" stroke-width="0.28" >(f)</text>
<line x1="571" y1="294" x2="584" y2="294" stroke="#000" stroke-width="1.8" />
<circle cx="581.7" cy="294" r="4.3" fill="url(#gk)"/>
<line x1="571" y1="306.1" x2="584" y2="306.1" stroke="#ff1010" stroke-width="1.8" />
<circle cx="581.7" cy="306.1" r="4.3" fill="url(#gr)"/>
<text x="596.1" y="297.6" font-family='"Liberation Sans", sans-serif' font-size="8.6" font-weight="bold" text-anchor="start" fill="#000" stroke="#000" stroke-width="0.28" textLength="52.7" lengthAdjust="spacingAndGlyphs" >Orignal data</text>
<text x="596.1" y="309.7" font-family='"Liberation Sans", sans-serif' font-size="8.6" font-weight="bold" text-anchor="start" fill="#000" stroke="#000" stroke-width="0.28" textLength="45" lengthAdjust="spacingAndGlyphs" >Fitted data</text>
<path d="M470.2 197.4L472.2 197.4" fill="none" stroke="#333" stroke-width="0.6" stroke-linejoin="round" stroke-linecap="round" />
<path d="M488.9 197.4L495 197.4L495 184.5L501.2 184.5" fill="none" stroke="#4a4af0" stroke-width="0.9" stroke-linejoin="round" stroke-linecap="round" />
<path d="M495 197.4L495 213.6L497.1 213.6" fill="none" stroke="#4a4af0" stroke-width="0.9" stroke-linejoin="round" stroke-linecap="round" />
<path d="M517.6 184.7L526 184.7" fill="none" stroke="#4a4af0" stroke-width="0.9" stroke-linejoin="round" stroke-linecap="round" />
<path d="M542.7 184.7L549.5 184.7L549.5 197.2L558.4 197.2" fill="none" stroke="#4a4af0" stroke-width="0.9" stroke-linejoin="round" stroke-linecap="round" />
<path d="M513.6 213.9L521.8 213.9" fill="none" stroke="#4a4af0" stroke-width="0.9" stroke-linejoin="round" stroke-linecap="round" />
<path d="M538.5 213.9L549.5 213.9L549.5 197.2" fill="none" stroke="#4a4af0" stroke-width="0.9" stroke-linejoin="round" stroke-linecap="round" />
<line x1="515.8" y1="188.5" x2="515.8" y2="213.9" stroke="#555" stroke-width="0.7" />
<path d="M575.8 197.2L590 197.2" fill="none" stroke="#4a4af0" stroke-width="0.9" stroke-linejoin="round" stroke-linecap="round" />
<circle cx="590.3" cy="197.2" r="1.3" fill="#111"/>
<text x="590.3" y="202.8" font-family='"Liberation Sans", sans-serif' font-size="2.6" font-weight="normal" text-anchor="middle" fill="#333" >WE</text>
<rect x="472.2" y="193" width="16.7" height="8" fill="#c8c8c8" stroke="#9a9a9a" stroke-width="0.5"/>
<rect x="472.2" y="201" width="16.7" height="4.6" fill="#fbfbfb" stroke="#9a9a9a" stroke-width="0.5"/>
<line x1="472.2" y1="197.3" x2="488.9" y2="197.3" stroke="#333" stroke-width="0.7" />
<rect x="475.55" y="195.3" width="10" height="4" fill="#c8c8c8"/>
<path d="M475.55 197.3L476.35 195.7L478.05 198.9L479.75 195.7L481.45 198.9L483.15 195.7L484.85 198.9L485.55 197.3" fill="none" stroke="#222" stroke-width="0.7" stroke-linejoin="round" stroke-linecap="round" />
<text x="480.55" y="204.6" font-family='"Liberation Sans", sans-serif' font-size="3.2" font-weight="normal" text-anchor="middle" fill="#444" >Rs</text>
<circle cx="472.2" cy="197.3" r="0.7" fill="#00c"/><circle cx="488.9" cy="197.3" r="0.7" fill="#00c"/>
<rect x="501.2" y="180.4" width="16.4" height="8" fill="#c8c8c8" stroke="#9a9a9a" stroke-width="0.5"/>
<rect x="501.2" y="188.4" width="16.4" height="4.6" fill="#fbfbfb" stroke="#9a9a9a" stroke-width="0.5"/>
<line x1="501.2" y1="184.7" x2="517.6" y2="184.7" stroke="#333" stroke-width="0.7" />
<rect x="504.4" y="182.7" width="10" height="4" fill="#c8c8c8"/>
<path d="M504.4 184.7L505.2 183.1L506.9 186.3L508.6 183.1L510.3 186.3L512 183.1L513.7 186.3L514.4 184.7" fill="none" stroke="#222" stroke-width="0.7" stroke-linejoin="round" stroke-linecap="round" />
<text x="509.4" y="192" font-family='"Liberation Sans", sans-serif' font-size="3.2" font-weight="normal" text-anchor="middle" fill="#444" >R1</text>
<circle cx="501.2" cy="184.7" r="0.7" fill="#00c"/><circle cx="517.6" cy="184.7" r="0.7" fill="#00c"/>
<rect x="526" y="180.4" width="16.7" height="8" fill="#c8c8c8" stroke="#9a9a9a" stroke-width="0.5"/>
<rect x="526" y="188.4" width="16.7" height="4.6" fill="#fbfbfb" stroke="#9a9a9a" stroke-width="0.5"/>
<line x1="526" y1="184.7" x2="542.7" y2="184.7" stroke="#333" stroke-width="0.7" />
<rect x="533.15" y="182.2" width="2.4" height="5" fill="#c8c8c8"/>
<line x1="533.35" y1="182.2" x2="533.35" y2="187.2" stroke="#222" stroke-width="0.7" />
<line x1="535.35" y1="182.2" x2="535.35" y2="187.2" stroke="#222" stroke-width="0.7" />
<text x="534.35" y="192" font-family='"Liberation Sans", sans-serif' font-size="3.2" font-weight="normal" text-anchor="middle" fill="#444" >C1</text>
<circle cx="526" cy="184.7" r="0.7" fill="#00c"/><circle cx="542.7" cy="184.7" r="0.7" fill="#00c"/>
<rect x="497.1" y="209.6" width="16.5" height="8" fill="#c8c8c8" stroke="#9a9a9a" stroke-width="0.5"/>
<rect x="497.1" y="217.6" width="16.5" height="4.6" fill="#fbfbfb" stroke="#9a9a9a" stroke-width="0.5"/>
<line x1="497.1" y1="213.9" x2="513.6" y2="213.9" stroke="#333" stroke-width="0.7" />
<rect x="504.15" y="211.4" width="2.4" height="5" fill="#c8c8c8"/>
<line x1="504.35" y1="211.4" x2="504.35" y2="216.4" stroke="#222" stroke-width="0.7" />
<line x1="506.35" y1="211.4" x2="506.35" y2="216.4" stroke="#222" stroke-width="0.7" />
<text x="505.35" y="221.2" font-family='"Liberation Sans", sans-serif' font-size="3.2" font-weight="normal" text-anchor="middle" fill="#444" >C2</text>
<circle cx="497.1" cy="213.9" r="0.7" fill="#00c"/><circle cx="513.6" cy="213.9" r="0.7" fill="#00c"/>
<rect x="521.8" y="209.6" width="16.7" height="8" fill="#c8c8c8" stroke="#9a9a9a" stroke-width="0.5"/>
<rect x="521.8" y="217.6" width="16.7" height="4.6" fill="#fbfbfb" stroke="#9a9a9a" stroke-width="0.5"/>
<line x1="521.8" y1="213.9" x2="538.5" y2="213.9" stroke="#333" stroke-width="0.7" />
<rect x="525.15" y="211.9" width="10" height="4" fill="#c8c8c8"/>
<path d="M525.15 213.9L525.95 212.3L527.65 215.5L529.35 212.3L531.05 215.5L532.75 212.3L534.45 215.5L535.15 213.9" fill="none" stroke="#222" stroke-width="0.7" stroke-linejoin="round" stroke-linecap="round" />
<text x="530.15" y="221.2" font-family='"Liberation Sans", sans-serif' font-size="3.2" font-weight="normal" text-anchor="middle" fill="#444" >R2</text>
<circle cx="521.8" cy="213.9" r="0.7" fill="#00c"/><circle cx="538.5" cy="213.9" r="0.7" fill="#00c"/>
<rect x="558.4" y="192.9" width="17.4" height="8" fill="#c8c8c8" stroke="#9a9a9a" stroke-width="0.5"/>
<rect x="558.4" y="200.9" width="17.4" height="4.6" fill="#fbfbfb" stroke="#9a9a9a" stroke-width="0.5"/>
<line x1="558.4" y1="197.2" x2="575.8" y2="197.2" stroke="#333" stroke-width="0.7" />
<rect x="564.1" y="195.2" width="6" height="4" fill="#c8c8c8"/>
<path d="M564.1 195.2L565.6 199.2L567.1 196.2L568.6 199.2L570.1 195.2" fill="none" stroke="#222" stroke-width="0.7" stroke-linejoin="round" stroke-linecap="round" />
<text x="567.1" y="204.5" font-family='"Liberation Sans", sans-serif' font-size="3.2" font-weight="normal" text-anchor="middle" fill="#444" >W1</text>
<circle cx="558.4" cy="197.2" r="0.7" fill="#00c"/><circle cx="575.8" cy="197.2" r="0.7" fill="#00c"/>
</svg>
</body></html>
